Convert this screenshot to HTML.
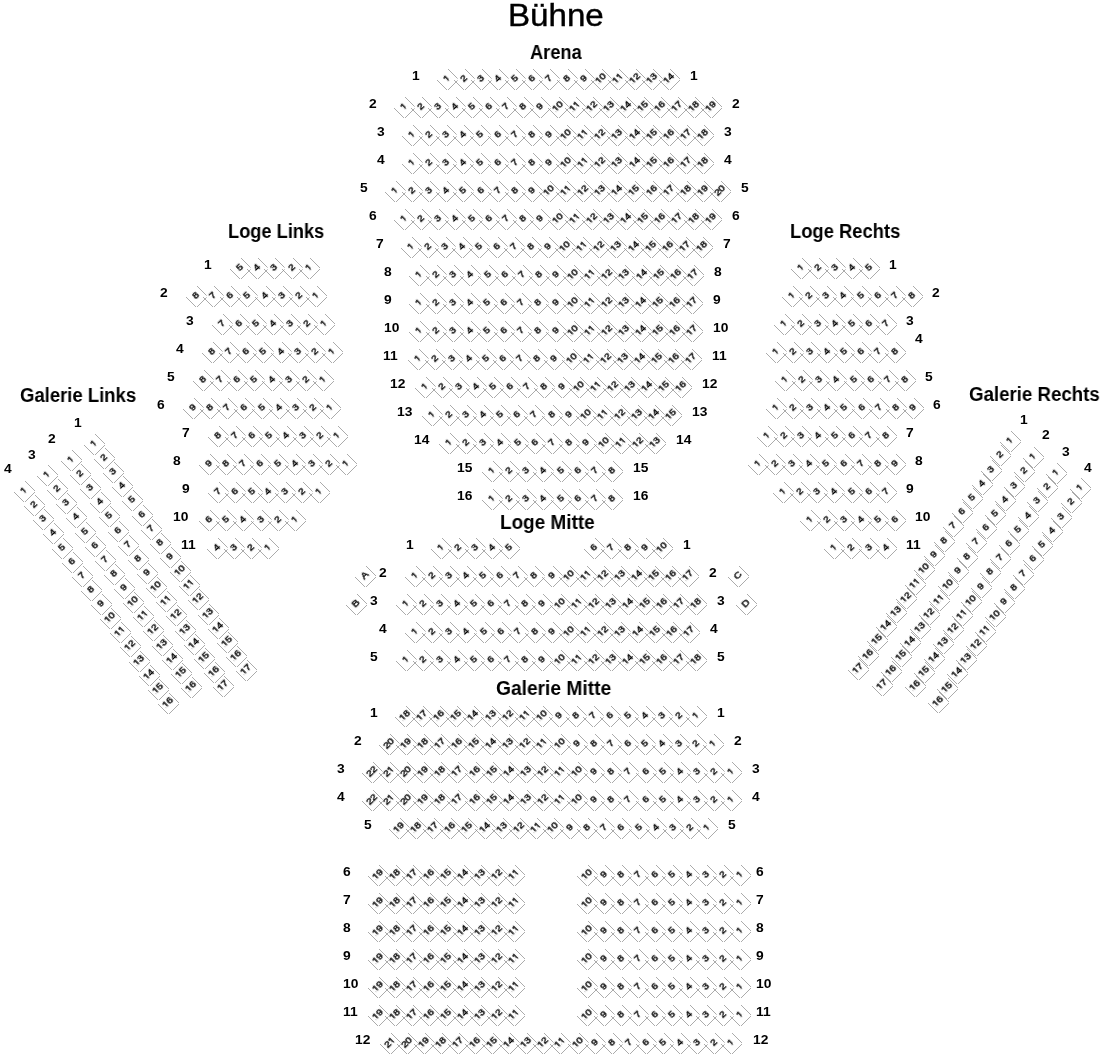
<!DOCTYPE html><html><head><meta charset="utf-8"><title>Sitzplan</title><style>html,body{margin:0;padding:0;background:#fff}
body{width:1100px;height:1062px;position:relative;overflow:hidden;font-family:"Liberation Sans",sans-serif}
svg{position:absolute;left:0;top:0}
i{position:absolute;width:15px;height:15px;transform:rotate(-45deg) scaleX(1.1);font:9.5px/12px "Liberation Sans",sans-serif;text-align:center;font-style:normal;color:#000;letter-spacing:-0.4px;-webkit-text-stroke:0.45px #000;will-change:transform}
b{position:absolute;font:bold 12px/17px "Liberation Sans",sans-serif;color:#000;transform:scaleX(1.15);transform-origin:0 0;white-space:nowrap;will-change:transform}
s{position:relative;text-decoration:none}
s:before,s:after{content:"";position:absolute;top:.81em;height:.2em;width:.2em;background:#fff}
s:before{left:.02em}s:after{left:.345em}
u{position:absolute;text-decoration:none;font-family:"Liberation Sans",sans-serif;line-height:1;color:#000;transform-origin:0 0;white-space:nowrap;will-change:transform}
</style></head><body><svg width="1100" height="1062"><path fill="none" stroke="#8a8a8a" stroke-width="0.72" shape-rendering="crispEdges" d="M448.3 69.3l8.4 8.4m0 3.6l-8.4 8.4m-1.6 0l-9.4-9.4M465.3 69.3l8.4 8.4m0 3.6l-8.4 8.4m-1.6 0l-9.4-9.4M482.3 69.3l8.4 8.4m0 3.6l-8.4 8.4m-1.6 0l-9.4-9.4M499.3 69.3l8.4 8.4m0 3.6l-8.4 8.4m-1.6 0l-9.4-9.4M516.3 69.3l8.4 8.4m0 3.6l-8.4 8.4m-1.6 0l-9.4-9.4M533.3 69.3l8.4 8.4m0 3.6l-8.4 8.4m-1.6 0l-9.4-9.4M550.3 69.3l8.4 8.4m0 3.6l-8.4 8.4m-1.6 0l-9.4-9.4M568.3 69.3l8.4 8.4m0 3.6l-8.4 8.4m-1.6 0l-9.4-9.4M585.3 69.3l8.4 8.4m0 3.6l-8.4 8.4m-1.6 0l-9.4-9.4M602.3 69.3l8.4 8.4m0 3.6l-8.4 8.4m-1.6 0l-9.4-9.4M619.3 69.3l8.4 8.4m0 3.6l-8.4 8.4m-1.6 0l-9.4-9.4M636.3 69.3l8.4 8.4m0 3.6l-8.4 8.4m-1.6 0l-9.4-9.4M653.3 69.3l8.4 8.4m0 3.6l-8.4 8.4m-1.6 0l-9.4-9.4M670.3 69.3l9.4 9.4m0 1.6l-9.4 9.4m-1.6 0l-9.4-9.4M405.3 97.3l8.4 8.4m0 3.6l-8.4 8.4m-1.6 0l-9.4-9.4M422.3 97.3l8.4 8.4m0 3.6l-8.4 8.4m-1.6 0l-9.4-9.4M439.3 97.3l8.4 8.4m0 3.6l-8.4 8.4m-1.6 0l-9.4-9.4M456.3 97.3l8.4 8.4m0 3.6l-8.4 8.4m-1.6 0l-9.4-9.4M473.3 97.3l8.4 8.4m0 3.6l-8.4 8.4m-1.6 0l-9.4-9.4M490.3 97.3l8.4 8.4m0 3.6l-8.4 8.4m-1.6 0l-9.4-9.4M507.3 97.3l8.4 8.4m0 3.6l-8.4 8.4m-1.6 0l-9.4-9.4M524.3 97.3l8.4 8.4m0 3.6l-8.4 8.4m-1.6 0l-9.4-9.4M541.3 97.3l8.4 8.4m0 3.6l-8.4 8.4m-1.6 0l-9.4-9.4M559.3 97.3l8.4 8.4m0 3.6l-8.4 8.4m-1.6 0l-9.4-9.4M576.3 97.3l8.4 8.4m0 3.6l-8.4 8.4m-1.6 0l-9.4-9.4M593.3 97.3l8.4 8.4m0 3.6l-8.4 8.4m-1.6 0l-9.4-9.4M610.3 97.3l8.4 8.4m0 3.6l-8.4 8.4m-1.6 0l-9.4-9.4M627.3 97.3l8.4 8.4m0 3.6l-8.4 8.4m-1.6 0l-9.4-9.4M644.3 97.3l8.4 8.4m0 3.6l-8.4 8.4m-1.6 0l-9.4-9.4M661.3 97.3l8.4 8.4m0 3.6l-8.4 8.4m-1.6 0l-9.4-9.4M678.3 97.3l8.4 8.4m0 3.6l-8.4 8.4m-1.6 0l-9.4-9.4M695.3 97.3l8.4 8.4m0 3.6l-8.4 8.4m-1.6 0l-9.4-9.4M712.3 97.3l9.4 9.4m0 1.6l-9.4 9.4m-1.6 0l-9.4-9.4M413.3 125.3l8.4 8.4m0 3.6l-8.4 8.4m-1.6 0l-9.4-9.4M430.3 125.3l8.4 8.4m0 3.6l-8.4 8.4m-1.6 0l-9.4-9.4M447.3 125.3l8.4 8.4m0 3.6l-8.4 8.4m-1.6 0l-9.4-9.4M464.3 125.3l8.4 8.4m0 3.6l-8.4 8.4m-1.6 0l-9.4-9.4M481.3 125.3l8.4 8.4m0 3.6l-8.4 8.4m-1.6 0l-9.4-9.4M499.3 125.3l8.4 8.4m0 3.6l-8.4 8.4m-1.6 0l-9.4-9.4M516.3 125.3l8.4 8.4m0 3.6l-8.4 8.4m-1.6 0l-9.4-9.4M533.3 125.3l8.4 8.4m0 3.6l-8.4 8.4m-1.6 0l-9.4-9.4M550.3 125.3l8.4 8.4m0 3.6l-8.4 8.4m-1.6 0l-9.4-9.4M567.3 125.3l8.4 8.4m0 3.6l-8.4 8.4m-1.6 0l-9.4-9.4M584.3 125.3l8.4 8.4m0 3.6l-8.4 8.4m-1.6 0l-9.4-9.4M601.3 125.3l8.4 8.4m0 3.6l-8.4 8.4m-1.6 0l-9.4-9.4M618.3 125.3l8.4 8.4m0 3.6l-8.4 8.4m-1.6 0l-9.4-9.4M636.3 125.3l8.4 8.4m0 3.6l-8.4 8.4m-1.6 0l-9.4-9.4M653.3 125.3l8.4 8.4m0 3.6l-8.4 8.4m-1.6 0l-9.4-9.4M670.3 125.3l8.4 8.4m0 3.6l-8.4 8.4m-1.6 0l-9.4-9.4M687.3 125.3l8.4 8.4m0 3.6l-8.4 8.4m-1.6 0l-9.4-9.4M704.3 125.3l9.4 9.4m0 1.6l-9.4 9.4m-1.6 0l-9.4-9.4M413.3 153.3l8.4 8.4m0 3.6l-8.4 8.4m-1.6 0l-9.4-9.4M430.3 153.3l8.4 8.4m0 3.6l-8.4 8.4m-1.6 0l-9.4-9.4M447.3 153.3l8.4 8.4m0 3.6l-8.4 8.4m-1.6 0l-9.4-9.4M464.3 153.3l8.4 8.4m0 3.6l-8.4 8.4m-1.6 0l-9.4-9.4M481.3 153.3l8.4 8.4m0 3.6l-8.4 8.4m-1.6 0l-9.4-9.4M499.3 153.3l8.4 8.4m0 3.6l-8.4 8.4m-1.6 0l-9.4-9.4M516.3 153.3l8.4 8.4m0 3.6l-8.4 8.4m-1.6 0l-9.4-9.4M533.3 153.3l8.4 8.4m0 3.6l-8.4 8.4m-1.6 0l-9.4-9.4M550.3 153.3l8.4 8.4m0 3.6l-8.4 8.4m-1.6 0l-9.4-9.4M567.3 153.3l8.4 8.4m0 3.6l-8.4 8.4m-1.6 0l-9.4-9.4M584.3 153.3l8.4 8.4m0 3.6l-8.4 8.4m-1.6 0l-9.4-9.4M601.3 153.3l8.4 8.4m0 3.6l-8.4 8.4m-1.6 0l-9.4-9.4M618.3 153.3l8.4 8.4m0 3.6l-8.4 8.4m-1.6 0l-9.4-9.4M636.3 153.3l8.4 8.4m0 3.6l-8.4 8.4m-1.6 0l-9.4-9.4M653.3 153.3l8.4 8.4m0 3.6l-8.4 8.4m-1.6 0l-9.4-9.4M670.3 153.3l8.4 8.4m0 3.6l-8.4 8.4m-1.6 0l-9.4-9.4M687.3 153.3l8.4 8.4m0 3.6l-8.4 8.4m-1.6 0l-9.4-9.4M704.3 153.3l9.4 9.4m0 1.6l-9.4 9.4m-1.6 0l-9.4-9.4M396.3 181.3l8.4 8.4m0 3.6l-8.4 8.4m-1.6 0l-9.4-9.4M413.3 181.3l8.4 8.4m0 3.6l-8.4 8.4m-1.6 0l-9.4-9.4M430.3 181.3l8.4 8.4m0 3.6l-8.4 8.4m-1.6 0l-9.4-9.4M447.3 181.3l8.4 8.4m0 3.6l-8.4 8.4m-1.6 0l-9.4-9.4M464.3 181.3l8.4 8.4m0 3.6l-8.4 8.4m-1.6 0l-9.4-9.4M482.3 181.3l8.4 8.4m0 3.6l-8.4 8.4m-1.6 0l-9.4-9.4M499.3 181.3l8.4 8.4m0 3.6l-8.4 8.4m-1.6 0l-9.4-9.4M516.3 181.3l8.4 8.4m0 3.6l-8.4 8.4m-1.6 0l-9.4-9.4M533.3 181.3l8.4 8.4m0 3.6l-8.4 8.4m-1.6 0l-9.4-9.4M550.3 181.3l8.4 8.4m0 3.6l-8.4 8.4m-1.6 0l-9.4-9.4M567.3 181.3l8.4 8.4m0 3.6l-8.4 8.4m-1.6 0l-9.4-9.4M584.3 181.3l8.4 8.4m0 3.6l-8.4 8.4m-1.6 0l-9.4-9.4M601.3 181.3l8.4 8.4m0 3.6l-8.4 8.4m-1.6 0l-9.4-9.4M618.3 181.3l8.4 8.4m0 3.6l-8.4 8.4m-1.6 0l-9.4-9.4M635.3 181.3l8.4 8.4m0 3.6l-8.4 8.4m-1.6 0l-9.4-9.4M653.3 181.3l8.4 8.4m0 3.6l-8.4 8.4m-1.6 0l-9.4-9.4M670.3 181.3l8.4 8.4m0 3.6l-8.4 8.4m-1.6 0l-9.4-9.4M687.3 181.3l8.4 8.4m0 3.6l-8.4 8.4m-1.6 0l-9.4-9.4M704.3 181.3l8.4 8.4m0 3.6l-8.4 8.4m-1.6 0l-9.4-9.4M721.3 181.3l9.4 9.4m0 1.6l-9.4 9.4m-1.6 0l-9.4-9.4M405.3 209.3l8.4 8.4m0 3.6l-8.4 8.4m-1.6 0l-9.4-9.4M422.3 209.3l8.4 8.4m0 3.6l-8.4 8.4m-1.6 0l-9.4-9.4M439.3 209.3l8.4 8.4m0 3.6l-8.4 8.4m-1.6 0l-9.4-9.4M456.3 209.3l8.4 8.4m0 3.6l-8.4 8.4m-1.6 0l-9.4-9.4M473.3 209.3l8.4 8.4m0 3.6l-8.4 8.4m-1.6 0l-9.4-9.4M490.3 209.3l8.4 8.4m0 3.6l-8.4 8.4m-1.6 0l-9.4-9.4M507.3 209.3l8.4 8.4m0 3.6l-8.4 8.4m-1.6 0l-9.4-9.4M524.3 209.3l8.4 8.4m0 3.6l-8.4 8.4m-1.6 0l-9.4-9.4M541.3 209.3l8.4 8.4m0 3.6l-8.4 8.4m-1.6 0l-9.4-9.4M559.3 209.3l8.4 8.4m0 3.6l-8.4 8.4m-1.6 0l-9.4-9.4M576.3 209.3l8.4 8.4m0 3.6l-8.4 8.4m-1.6 0l-9.4-9.4M593.3 209.3l8.4 8.4m0 3.6l-8.4 8.4m-1.6 0l-9.4-9.4M610.3 209.3l8.4 8.4m0 3.6l-8.4 8.4m-1.6 0l-9.4-9.4M627.3 209.3l8.4 8.4m0 3.6l-8.4 8.4m-1.6 0l-9.4-9.4M644.3 209.3l8.4 8.4m0 3.6l-8.4 8.4m-1.6 0l-9.4-9.4M661.3 209.3l8.4 8.4m0 3.6l-8.4 8.4m-1.6 0l-9.4-9.4M678.3 209.3l8.4 8.4m0 3.6l-8.4 8.4m-1.6 0l-9.4-9.4M695.3 209.3l8.4 8.4m0 3.6l-8.4 8.4m-1.6 0l-9.4-9.4M712.3 209.3l9.4 9.4m0 1.6l-9.4 9.4m-1.6 0l-9.4-9.4M412.3 237.3l8.4 8.4m0 3.6l-8.4 8.4m-1.6 0l-9.4-9.4M429.3 237.3l8.4 8.4m0 3.6l-8.4 8.4m-1.6 0l-9.4-9.4M446.3 237.3l8.4 8.4m0 3.6l-8.4 8.4m-1.6 0l-9.4-9.4M463.3 237.3l8.4 8.4m0 3.6l-8.4 8.4m-1.6 0l-9.4-9.4M480.3 237.3l8.4 8.4m0 3.6l-8.4 8.4m-1.6 0l-9.4-9.4M498.3 237.3l8.4 8.4m0 3.6l-8.4 8.4m-1.6 0l-9.4-9.4M515.3 237.3l8.4 8.4m0 3.6l-8.4 8.4m-1.6 0l-9.4-9.4M532.3 237.3l8.4 8.4m0 3.6l-8.4 8.4m-1.6 0l-9.4-9.4M549.3 237.3l8.4 8.4m0 3.6l-8.4 8.4m-1.6 0l-9.4-9.4M566.3 237.3l8.4 8.4m0 3.6l-8.4 8.4m-1.6 0l-9.4-9.4M583.3 237.3l8.4 8.4m0 3.6l-8.4 8.4m-1.6 0l-9.4-9.4M600.3 237.3l8.4 8.4m0 3.6l-8.4 8.4m-1.6 0l-9.4-9.4M617.3 237.3l8.4 8.4m0 3.6l-8.4 8.4m-1.6 0l-9.4-9.4M635.3 237.3l8.4 8.4m0 3.6l-8.4 8.4m-1.6 0l-9.4-9.4M652.3 237.3l8.4 8.4m0 3.6l-8.4 8.4m-1.6 0l-9.4-9.4M669.3 237.3l8.4 8.4m0 3.6l-8.4 8.4m-1.6 0l-9.4-9.4M686.3 237.3l8.4 8.4m0 3.6l-8.4 8.4m-1.6 0l-9.4-9.4M703.3 237.3l9.4 9.4m0 1.6l-9.4 9.4m-1.6 0l-9.4-9.4M420.3 265.3l8.4 8.4m0 3.6l-8.4 8.4m-1.6 0l-9.4-9.4M437.3 265.3l8.4 8.4m0 3.6l-8.4 8.4m-1.6 0l-9.4-9.4M454.3 265.3l8.4 8.4m0 3.6l-8.4 8.4m-1.6 0l-9.4-9.4M471.3 265.3l8.4 8.4m0 3.6l-8.4 8.4m-1.6 0l-9.4-9.4M489.3 265.3l8.4 8.4m0 3.6l-8.4 8.4m-1.6 0l-9.4-9.4M506.3 265.3l8.4 8.4m0 3.6l-8.4 8.4m-1.6 0l-9.4-9.4M523.3 265.3l8.4 8.4m0 3.6l-8.4 8.4m-1.6 0l-9.4-9.4M540.3 265.3l8.4 8.4m0 3.6l-8.4 8.4m-1.6 0l-9.4-9.4M557.3 265.3l8.4 8.4m0 3.6l-8.4 8.4m-1.6 0l-9.4-9.4M574.3 265.3l8.4 8.4m0 3.6l-8.4 8.4m-1.6 0l-9.4-9.4M591.3 265.3l8.4 8.4m0 3.6l-8.4 8.4m-1.6 0l-9.4-9.4M608.3 265.3l8.4 8.4m0 3.6l-8.4 8.4m-1.6 0l-9.4-9.4M625.3 265.3l8.4 8.4m0 3.6l-8.4 8.4m-1.6 0l-9.4-9.4M643.3 265.3l8.4 8.4m0 3.6l-8.4 8.4m-1.6 0l-9.4-9.4M660.3 265.3l8.4 8.4m0 3.6l-8.4 8.4m-1.6 0l-9.4-9.4M677.3 265.3l8.4 8.4m0 3.6l-8.4 8.4m-1.6 0l-9.4-9.4M694.3 265.3l9.4 9.4m0 1.6l-9.4 9.4m-1.6 0l-9.4-9.4M420.3 293.3l8.4 8.4m0 3.6l-8.4 8.4m-1.6 0l-9.4-9.4M437.3 293.3l8.4 8.4m0 3.6l-8.4 8.4m-1.6 0l-9.4-9.4M454.3 293.3l8.4 8.4m0 3.6l-8.4 8.4m-1.6 0l-9.4-9.4M471.3 293.3l8.4 8.4m0 3.6l-8.4 8.4m-1.6 0l-9.4-9.4M488.3 293.3l8.4 8.4m0 3.6l-8.4 8.4m-1.6 0l-9.4-9.4M505.3 293.3l8.4 8.4m0 3.6l-8.4 8.4m-1.6 0l-9.4-9.4M522.3 293.3l8.4 8.4m0 3.6l-8.4 8.4m-1.6 0l-9.4-9.4M539.3 293.3l8.4 8.4m0 3.6l-8.4 8.4m-1.6 0l-9.4-9.4M557.3 293.3l8.4 8.4m0 3.6l-8.4 8.4m-1.6 0l-9.4-9.4M574.3 293.3l8.4 8.4m0 3.6l-8.4 8.4m-1.6 0l-9.4-9.4M591.3 293.3l8.4 8.4m0 3.6l-8.4 8.4m-1.6 0l-9.4-9.4M608.3 293.3l8.4 8.4m0 3.6l-8.4 8.4m-1.6 0l-9.4-9.4M625.3 293.3l8.4 8.4m0 3.6l-8.4 8.4m-1.6 0l-9.4-9.4M642.3 293.3l8.4 8.4m0 3.6l-8.4 8.4m-1.6 0l-9.4-9.4M659.3 293.3l8.4 8.4m0 3.6l-8.4 8.4m-1.6 0l-9.4-9.4M676.3 293.3l8.4 8.4m0 3.6l-8.4 8.4m-1.6 0l-9.4-9.4M693.3 293.3l9.4 9.4m0 1.6l-9.4 9.4m-1.6 0l-9.4-9.4M420.3 321.3l8.4 8.4m0 3.6l-8.4 8.4m-1.6 0l-9.4-9.4M437.3 321.3l8.4 8.4m0 3.6l-8.4 8.4m-1.6 0l-9.4-9.4M454.3 321.3l8.4 8.4m0 3.6l-8.4 8.4m-1.6 0l-9.4-9.4M471.3 321.3l8.4 8.4m0 3.6l-8.4 8.4m-1.6 0l-9.4-9.4M488.3 321.3l8.4 8.4m0 3.6l-8.4 8.4m-1.6 0l-9.4-9.4M505.3 321.3l8.4 8.4m0 3.6l-8.4 8.4m-1.6 0l-9.4-9.4M522.3 321.3l8.4 8.4m0 3.6l-8.4 8.4m-1.6 0l-9.4-9.4M539.3 321.3l8.4 8.4m0 3.6l-8.4 8.4m-1.6 0l-9.4-9.4M557.3 321.3l8.4 8.4m0 3.6l-8.4 8.4m-1.6 0l-9.4-9.4M574.3 321.3l8.4 8.4m0 3.6l-8.4 8.4m-1.6 0l-9.4-9.4M591.3 321.3l8.4 8.4m0 3.6l-8.4 8.4m-1.6 0l-9.4-9.4M608.3 321.3l8.4 8.4m0 3.6l-8.4 8.4m-1.6 0l-9.4-9.4M625.3 321.3l8.4 8.4m0 3.6l-8.4 8.4m-1.6 0l-9.4-9.4M642.3 321.3l8.4 8.4m0 3.6l-8.4 8.4m-1.6 0l-9.4-9.4M659.3 321.3l8.4 8.4m0 3.6l-8.4 8.4m-1.6 0l-9.4-9.4M676.3 321.3l8.4 8.4m0 3.6l-8.4 8.4m-1.6 0l-9.4-9.4M693.3 321.3l9.4 9.4m0 1.6l-9.4 9.4m-1.6 0l-9.4-9.4M419.3 349.3l8.4 8.4m0 3.6l-8.4 8.4m-1.6 0l-9.4-9.4M436.3 349.3l8.4 8.4m0 3.6l-8.4 8.4m-1.6 0l-9.4-9.4M453.3 349.3l8.4 8.4m0 3.6l-8.4 8.4m-1.6 0l-9.4-9.4M470.3 349.3l8.4 8.4m0 3.6l-8.4 8.4m-1.6 0l-9.4-9.4M487.3 349.3l8.4 8.4m0 3.6l-8.4 8.4m-1.6 0l-9.4-9.4M504.3 349.3l8.4 8.4m0 3.6l-8.4 8.4m-1.6 0l-9.4-9.4M521.3 349.3l8.4 8.4m0 3.6l-8.4 8.4m-1.6 0l-9.4-9.4M538.3 349.3l8.4 8.4m0 3.6l-8.4 8.4m-1.6 0l-9.4-9.4M555.3 349.3l8.4 8.4m0 3.6l-8.4 8.4m-1.6 0l-9.4-9.4M573.3 349.3l8.4 8.4m0 3.6l-8.4 8.4m-1.6 0l-9.4-9.4M590.3 349.3l8.4 8.4m0 3.6l-8.4 8.4m-1.6 0l-9.4-9.4M607.3 349.3l8.4 8.4m0 3.6l-8.4 8.4m-1.6 0l-9.4-9.4M624.3 349.3l8.4 8.4m0 3.6l-8.4 8.4m-1.6 0l-9.4-9.4M641.3 349.3l8.4 8.4m0 3.6l-8.4 8.4m-1.6 0l-9.4-9.4M658.3 349.3l8.4 8.4m0 3.6l-8.4 8.4m-1.6 0l-9.4-9.4M675.3 349.3l8.4 8.4m0 3.6l-8.4 8.4m-1.6 0l-9.4-9.4M692.3 349.3l9.4 9.4m0 1.6l-9.4 9.4m-1.6 0l-9.4-9.4M426.3 377.3l8.4 8.4m0 3.6l-8.4 8.4m-1.6 0l-9.4-9.4M443.3 377.3l8.4 8.4m0 3.6l-8.4 8.4m-1.6 0l-9.4-9.4M460.3 377.3l8.4 8.4m0 3.6l-8.4 8.4m-1.6 0l-9.4-9.4M477.3 377.3l8.4 8.4m0 3.6l-8.4 8.4m-1.6 0l-9.4-9.4M494.3 377.3l8.4 8.4m0 3.6l-8.4 8.4m-1.6 0l-9.4-9.4M511.3 377.3l8.4 8.4m0 3.6l-8.4 8.4m-1.6 0l-9.4-9.4M528.3 377.3l8.4 8.4m0 3.6l-8.4 8.4m-1.6 0l-9.4-9.4M545.3 377.3l8.4 8.4m0 3.6l-8.4 8.4m-1.6 0l-9.4-9.4M563.3 377.3l8.4 8.4m0 3.6l-8.4 8.4m-1.6 0l-9.4-9.4M580.3 377.3l8.4 8.4m0 3.6l-8.4 8.4m-1.6 0l-9.4-9.4M597.3 377.3l8.4 8.4m0 3.6l-8.4 8.4m-1.6 0l-9.4-9.4M614.3 377.3l8.4 8.4m0 3.6l-8.4 8.4m-1.6 0l-9.4-9.4M631.3 377.3l8.4 8.4m0 3.6l-8.4 8.4m-1.6 0l-9.4-9.4M648.3 377.3l8.4 8.4m0 3.6l-8.4 8.4m-1.6 0l-9.4-9.4M665.3 377.3l8.4 8.4m0 3.6l-8.4 8.4m-1.6 0l-9.4-9.4M682.3 377.3l9.4 9.4m0 1.6l-9.4 9.4m-1.6 0l-9.4-9.4M433.3 405.3l8.4 8.4m0 3.6l-8.4 8.4m-1.6 0l-9.4-9.4M450.3 405.3l8.4 8.4m0 3.6l-8.4 8.4m-1.6 0l-9.4-9.4M467.3 405.3l8.4 8.4m0 3.6l-8.4 8.4m-1.6 0l-9.4-9.4M484.3 405.3l8.4 8.4m0 3.6l-8.4 8.4m-1.6 0l-9.4-9.4M501.3 405.3l8.4 8.4m0 3.6l-8.4 8.4m-1.6 0l-9.4-9.4M518.3 405.3l8.4 8.4m0 3.6l-8.4 8.4m-1.6 0l-9.4-9.4M535.3 405.3l8.4 8.4m0 3.6l-8.4 8.4m-1.6 0l-9.4-9.4M553.3 405.3l8.4 8.4m0 3.6l-8.4 8.4m-1.6 0l-9.4-9.4M570.3 405.3l8.4 8.4m0 3.6l-8.4 8.4m-1.6 0l-9.4-9.4M587.3 405.3l8.4 8.4m0 3.6l-8.4 8.4m-1.6 0l-9.4-9.4M604.3 405.3l8.4 8.4m0 3.6l-8.4 8.4m-1.6 0l-9.4-9.4M621.3 405.3l8.4 8.4m0 3.6l-8.4 8.4m-1.6 0l-9.4-9.4M638.3 405.3l8.4 8.4m0 3.6l-8.4 8.4m-1.6 0l-9.4-9.4M655.3 405.3l8.4 8.4m0 3.6l-8.4 8.4m-1.6 0l-9.4-9.4M672.3 405.3l9.4 9.4m0 1.6l-9.4 9.4m-1.6 0l-9.4-9.4M450.3 433.3l8.4 8.4m0 3.6l-8.4 8.4m-1.6 0l-9.4-9.4M467.3 433.3l8.4 8.4m0 3.6l-8.4 8.4m-1.6 0l-9.4-9.4M484.3 433.3l8.4 8.4m0 3.6l-8.4 8.4m-1.6 0l-9.4-9.4M501.3 433.3l8.4 8.4m0 3.6l-8.4 8.4m-1.6 0l-9.4-9.4M519.3 433.3l8.4 8.4m0 3.6l-8.4 8.4m-1.6 0l-9.4-9.4M536.3 433.3l8.4 8.4m0 3.6l-8.4 8.4m-1.6 0l-9.4-9.4M553.3 433.3l8.4 8.4m0 3.6l-8.4 8.4m-1.6 0l-9.4-9.4M570.3 433.3l8.4 8.4m0 3.6l-8.4 8.4m-1.6 0l-9.4-9.4M587.3 433.3l8.4 8.4m0 3.6l-8.4 8.4m-1.6 0l-9.4-9.4M605.3 433.3l8.4 8.4m0 3.6l-8.4 8.4m-1.6 0l-9.4-9.4M622.3 433.3l8.4 8.4m0 3.6l-8.4 8.4m-1.6 0l-9.4-9.4M639.3 433.3l8.4 8.4m0 3.6l-8.4 8.4m-1.6 0l-9.4-9.4M656.3 433.3l9.4 9.4m0 1.6l-9.4 9.4m-1.6 0l-9.4-9.4M493.3 461.3l8.4 8.4m0 3.6l-8.4 8.4m-1.6 0l-9.4-9.4M510.3 461.3l8.4 8.4m0 3.6l-8.4 8.4m-1.6 0l-9.4-9.4M527.3 461.3l8.4 8.4m0 3.6l-8.4 8.4m-1.6 0l-9.4-9.4M544.3 461.3l8.4 8.4m0 3.6l-8.4 8.4m-1.6 0l-9.4-9.4M562.3 461.3l8.4 8.4m0 3.6l-8.4 8.4m-1.6 0l-9.4-9.4M579.3 461.3l8.4 8.4m0 3.6l-8.4 8.4m-1.6 0l-9.4-9.4M596.3 461.3l8.4 8.4m0 3.6l-8.4 8.4m-1.6 0l-9.4-9.4M613.3 461.3l9.4 9.4m0 1.6l-9.4 9.4m-1.6 0l-9.4-9.4M493.3 489.3l8.4 8.4m0 3.6l-8.4 8.4m-1.6 0l-9.4-9.4M510.3 489.3l8.4 8.4m0 3.6l-8.4 8.4m-1.6 0l-9.4-9.4M527.3 489.3l8.4 8.4m0 3.6l-8.4 8.4m-1.6 0l-9.4-9.4M544.3 489.3l8.4 8.4m0 3.6l-8.4 8.4m-1.6 0l-9.4-9.4M562.3 489.3l8.4 8.4m0 3.6l-8.4 8.4m-1.6 0l-9.4-9.4M579.3 489.3l8.4 8.4m0 3.6l-8.4 8.4m-1.6 0l-9.4-9.4M596.3 489.3l8.4 8.4m0 3.6l-8.4 8.4m-1.6 0l-9.4-9.4M613.3 489.3l9.4 9.4m0 1.6l-9.4 9.4m-1.6 0l-9.4-9.4M241.3 258.3l8.4 8.4m0 3.6l-8.4 8.4m-1.6 0l-9.4-9.4M258.3 258.3l8.4 8.4m0 3.6l-8.4 8.4m-1.6 0l-9.4-9.4M275.3 258.3l8.4 8.4m0 3.6l-8.4 8.4m-1.6 0l-9.4-9.4M293.3 258.3l8.4 8.4m0 3.6l-8.4 8.4m-1.6 0l-9.4-9.4M310.3 258.3l9.4 9.4m0 1.6l-9.4 9.4m-1.6 0l-9.4-9.4M197.3 286.3l8.4 8.4m0 3.6l-8.4 8.4m-1.6 0l-9.4-9.4M214.3 286.3l8.4 8.4m0 3.6l-8.4 8.4m-1.6 0l-9.4-9.4M231.3 286.3l8.4 8.4m0 3.6l-8.4 8.4m-1.6 0l-9.4-9.4M248.3 286.3l8.4 8.4m0 3.6l-8.4 8.4m-1.6 0l-9.4-9.4M266.3 286.3l8.4 8.4m0 3.6l-8.4 8.4m-1.6 0l-9.4-9.4M283.3 286.3l8.4 8.4m0 3.6l-8.4 8.4m-1.6 0l-9.4-9.4M300.3 286.3l8.4 8.4m0 3.6l-8.4 8.4m-1.6 0l-9.4-9.4M317.3 286.3l9.4 9.4m0 1.6l-9.4 9.4m-1.6 0l-9.4-9.4M223.3 314.3l8.4 8.4m0 3.6l-8.4 8.4m-1.6 0l-9.4-9.4M240.3 314.3l8.4 8.4m0 3.6l-8.4 8.4m-1.6 0l-9.4-9.4M257.3 314.3l8.4 8.4m0 3.6l-8.4 8.4m-1.6 0l-9.4-9.4M274.3 314.3l8.4 8.4m0 3.6l-8.4 8.4m-1.6 0l-9.4-9.4M291.3 314.3l8.4 8.4m0 3.6l-8.4 8.4m-1.6 0l-9.4-9.4M308.3 314.3l8.4 8.4m0 3.6l-8.4 8.4m-1.6 0l-9.4-9.4M325.3 314.3l9.4 9.4m0 1.6l-9.4 9.4m-1.6 0l-9.4-9.4M213.3 342.3l8.4 8.4m0 3.6l-8.4 8.4m-1.6 0l-9.4-9.4M230.3 342.3l8.4 8.4m0 3.6l-8.4 8.4m-1.6 0l-9.4-9.4M247.3 342.3l8.4 8.4m0 3.6l-8.4 8.4m-1.6 0l-9.4-9.4M264.3 342.3l8.4 8.4m0 3.6l-8.4 8.4m-1.6 0l-9.4-9.4M282.3 342.3l8.4 8.4m0 3.6l-8.4 8.4m-1.6 0l-9.4-9.4M299.3 342.3l8.4 8.4m0 3.6l-8.4 8.4m-1.6 0l-9.4-9.4M316.3 342.3l8.4 8.4m0 3.6l-8.4 8.4m-1.6 0l-9.4-9.4M333.3 342.3l9.4 9.4m0 1.6l-9.4 9.4m-1.6 0l-9.4-9.4M204.3 370.3l8.4 8.4m0 3.6l-8.4 8.4m-1.6 0l-9.4-9.4M221.3 370.3l8.4 8.4m0 3.6l-8.4 8.4m-1.6 0l-9.4-9.4M238.3 370.3l8.4 8.4m0 3.6l-8.4 8.4m-1.6 0l-9.4-9.4M255.3 370.3l8.4 8.4m0 3.6l-8.4 8.4m-1.6 0l-9.4-9.4M273.3 370.3l8.4 8.4m0 3.6l-8.4 8.4m-1.6 0l-9.4-9.4M290.3 370.3l8.4 8.4m0 3.6l-8.4 8.4m-1.6 0l-9.4-9.4M307.3 370.3l8.4 8.4m0 3.6l-8.4 8.4m-1.6 0l-9.4-9.4M324.3 370.3l9.4 9.4m0 1.6l-9.4 9.4m-1.6 0l-9.4-9.4M194.3 398.3l8.4 8.4m0 3.6l-8.4 8.4m-1.6 0l-9.4-9.4M211.3 398.3l8.4 8.4m0 3.6l-8.4 8.4m-1.6 0l-9.4-9.4M228.3 398.3l8.4 8.4m0 3.6l-8.4 8.4m-1.6 0l-9.4-9.4M245.3 398.3l8.4 8.4m0 3.6l-8.4 8.4m-1.6 0l-9.4-9.4M263.3 398.3l8.4 8.4m0 3.6l-8.4 8.4m-1.6 0l-9.4-9.4M280.3 398.3l8.4 8.4m0 3.6l-8.4 8.4m-1.6 0l-9.4-9.4M297.3 398.3l8.4 8.4m0 3.6l-8.4 8.4m-1.6 0l-9.4-9.4M314.3 398.3l8.4 8.4m0 3.6l-8.4 8.4m-1.6 0l-9.4-9.4M331.3 398.3l9.4 9.4m0 1.6l-9.4 9.4m-1.6 0l-9.4-9.4M219.3 426.3l8.4 8.4m0 3.6l-8.4 8.4m-1.6 0l-9.4-9.4M236.3 426.3l8.4 8.4m0 3.6l-8.4 8.4m-1.6 0l-9.4-9.4M253.3 426.3l8.4 8.4m0 3.6l-8.4 8.4m-1.6 0l-9.4-9.4M270.3 426.3l8.4 8.4m0 3.6l-8.4 8.4m-1.6 0l-9.4-9.4M287.3 426.3l8.4 8.4m0 3.6l-8.4 8.4m-1.6 0l-9.4-9.4M304.3 426.3l8.4 8.4m0 3.6l-8.4 8.4m-1.6 0l-9.4-9.4M321.3 426.3l8.4 8.4m0 3.6l-8.4 8.4m-1.6 0l-9.4-9.4M338.3 426.3l9.4 9.4m0 1.6l-9.4 9.4m-1.6 0l-9.4-9.4M210.3 454.3l8.4 8.4m0 3.6l-8.4 8.4m-1.6 0l-9.4-9.4M227.3 454.3l8.4 8.4m0 3.6l-8.4 8.4m-1.6 0l-9.4-9.4M244.3 454.3l8.4 8.4m0 3.6l-8.4 8.4m-1.6 0l-9.4-9.4M261.3 454.3l8.4 8.4m0 3.6l-8.4 8.4m-1.6 0l-9.4-9.4M279.3 454.3l8.4 8.4m0 3.6l-8.4 8.4m-1.6 0l-9.4-9.4M296.3 454.3l8.4 8.4m0 3.6l-8.4 8.4m-1.6 0l-9.4-9.4M313.3 454.3l8.4 8.4m0 3.6l-8.4 8.4m-1.6 0l-9.4-9.4M330.3 454.3l8.4 8.4m0 3.6l-8.4 8.4m-1.6 0l-9.4-9.4M347.3 454.3l9.4 9.4m0 1.6l-9.4 9.4m-1.6 0l-9.4-9.4M219.3 482.3l8.4 8.4m0 3.6l-8.4 8.4m-1.6 0l-9.4-9.4M236.3 482.3l8.4 8.4m0 3.6l-8.4 8.4m-1.6 0l-9.4-9.4M253.3 482.3l8.4 8.4m0 3.6l-8.4 8.4m-1.6 0l-9.4-9.4M269.3 482.3l8.4 8.4m0 3.6l-8.4 8.4m-1.6 0l-9.4-9.4M286.3 482.3l8.4 8.4m0 3.6l-8.4 8.4m-1.6 0l-9.4-9.4M303.3 482.3l8.4 8.4m0 3.6l-8.4 8.4m-1.6 0l-9.4-9.4M320.3 482.3l9.4 9.4m0 1.6l-9.4 9.4m-1.6 0l-9.4-9.4M210.3 510.3l8.4 8.4m0 3.6l-8.4 8.4m-1.6 0l-9.4-9.4M227.3 510.3l8.4 8.4m0 3.6l-8.4 8.4m-1.6 0l-9.4-9.4M244.3 510.3l8.4 8.4m0 3.6l-8.4 8.4m-1.6 0l-9.4-9.4M262.3 510.3l8.4 8.4m0 3.6l-8.4 8.4m-1.6 0l-9.4-9.4M279.3 510.3l8.4 8.4m0 3.6l-8.4 8.4m-1.6 0l-9.4-9.4M296.3 510.3l9.4 9.4m0 1.6l-9.4 9.4m-1.6 0l-9.4-9.4M218.3 538.3l8.4 8.4m0 3.6l-8.4 8.4m-1.6 0l-9.4-9.4M235.3 538.3l8.4 8.4m0 3.6l-8.4 8.4m-1.6 0l-9.4-9.4M252.3 538.3l8.4 8.4m0 3.6l-8.4 8.4m-1.6 0l-9.4-9.4M269.3 538.3l9.4 9.4m0 1.6l-9.4 9.4m-1.6 0l-9.4-9.4M802.3 258.3l8.4 8.4m0 3.6l-8.4 8.4m-1.6 0l-9.4-9.4M819.3 258.3l8.4 8.4m0 3.6l-8.4 8.4m-1.6 0l-9.4-9.4M836.3 258.3l8.4 8.4m0 3.6l-8.4 8.4m-1.6 0l-9.4-9.4M853.3 258.3l8.4 8.4m0 3.6l-8.4 8.4m-1.6 0l-9.4-9.4M870.3 258.3l9.4 9.4m0 1.6l-9.4 9.4m-1.6 0l-9.4-9.4M793.3 286.3l8.4 8.4m0 3.6l-8.4 8.4m-1.6 0l-9.4-9.4M810.3 286.3l8.4 8.4m0 3.6l-8.4 8.4m-1.6 0l-9.4-9.4M827.3 286.3l8.4 8.4m0 3.6l-8.4 8.4m-1.6 0l-9.4-9.4M844.3 286.3l8.4 8.4m0 3.6l-8.4 8.4m-1.6 0l-9.4-9.4M862.3 286.3l8.4 8.4m0 3.6l-8.4 8.4m-1.6 0l-9.4-9.4M879.3 286.3l8.4 8.4m0 3.6l-8.4 8.4m-1.6 0l-9.4-9.4M896.3 286.3l8.4 8.4m0 3.6l-8.4 8.4m-1.6 0l-9.4-9.4M913.3 286.3l9.4 9.4m0 1.6l-9.4 9.4m-1.6 0l-9.4-9.4M785.3 314.3l8.4 8.4m0 3.6l-8.4 8.4m-1.6 0l-9.4-9.4M802.3 314.3l8.4 8.4m0 3.6l-8.4 8.4m-1.6 0l-9.4-9.4M819.3 314.3l8.4 8.4m0 3.6l-8.4 8.4m-1.6 0l-9.4-9.4M836.3 314.3l8.4 8.4m0 3.6l-8.4 8.4m-1.6 0l-9.4-9.4M853.3 314.3l8.4 8.4m0 3.6l-8.4 8.4m-1.6 0l-9.4-9.4M870.3 314.3l8.4 8.4m0 3.6l-8.4 8.4m-1.6 0l-9.4-9.4M887.3 314.3l9.4 9.4m0 1.6l-9.4 9.4m-1.6 0l-9.4-9.4M777.3 342.3l8.4 8.4m0 3.6l-8.4 8.4m-1.6 0l-9.4-9.4M794.3 342.3l8.4 8.4m0 3.6l-8.4 8.4m-1.6 0l-9.4-9.4M811.3 342.3l8.4 8.4m0 3.6l-8.4 8.4m-1.6 0l-9.4-9.4M828.3 342.3l8.4 8.4m0 3.6l-8.4 8.4m-1.6 0l-9.4-9.4M845.3 342.3l8.4 8.4m0 3.6l-8.4 8.4m-1.6 0l-9.4-9.4M862.3 342.3l8.4 8.4m0 3.6l-8.4 8.4m-1.6 0l-9.4-9.4M879.3 342.3l8.4 8.4m0 3.6l-8.4 8.4m-1.6 0l-9.4-9.4M896.3 342.3l9.4 9.4m0 1.6l-9.4 9.4m-1.6 0l-9.4-9.4M786.3 370.3l8.4 8.4m0 3.6l-8.4 8.4m-1.6 0l-9.4-9.4M803.3 370.3l8.4 8.4m0 3.6l-8.4 8.4m-1.6 0l-9.4-9.4M820.3 370.3l8.4 8.4m0 3.6l-8.4 8.4m-1.6 0l-9.4-9.4M837.3 370.3l8.4 8.4m0 3.6l-8.4 8.4m-1.6 0l-9.4-9.4M855.3 370.3l8.4 8.4m0 3.6l-8.4 8.4m-1.6 0l-9.4-9.4M872.3 370.3l8.4 8.4m0 3.6l-8.4 8.4m-1.6 0l-9.4-9.4M889.3 370.3l8.4 8.4m0 3.6l-8.4 8.4m-1.6 0l-9.4-9.4M906.3 370.3l9.4 9.4m0 1.6l-9.4 9.4m-1.6 0l-9.4-9.4M777.3 398.3l8.4 8.4m0 3.6l-8.4 8.4m-1.6 0l-9.4-9.4M794.3 398.3l8.4 8.4m0 3.6l-8.4 8.4m-1.6 0l-9.4-9.4M811.3 398.3l8.4 8.4m0 3.6l-8.4 8.4m-1.6 0l-9.4-9.4M828.3 398.3l8.4 8.4m0 3.6l-8.4 8.4m-1.6 0l-9.4-9.4M845.3 398.3l8.4 8.4m0 3.6l-8.4 8.4m-1.6 0l-9.4-9.4M863.3 398.3l8.4 8.4m0 3.6l-8.4 8.4m-1.6 0l-9.4-9.4M880.3 398.3l8.4 8.4m0 3.6l-8.4 8.4m-1.6 0l-9.4-9.4M897.3 398.3l8.4 8.4m0 3.6l-8.4 8.4m-1.6 0l-9.4-9.4M914.3 398.3l9.4 9.4m0 1.6l-9.4 9.4m-1.6 0l-9.4-9.4M768.3 426.3l8.4 8.4m0 3.6l-8.4 8.4m-1.6 0l-9.4-9.4M785.3 426.3l8.4 8.4m0 3.6l-8.4 8.4m-1.6 0l-9.4-9.4M802.3 426.3l8.4 8.4m0 3.6l-8.4 8.4m-1.6 0l-9.4-9.4M819.3 426.3l8.4 8.4m0 3.6l-8.4 8.4m-1.6 0l-9.4-9.4M836.3 426.3l8.4 8.4m0 3.6l-8.4 8.4m-1.6 0l-9.4-9.4M853.3 426.3l8.4 8.4m0 3.6l-8.4 8.4m-1.6 0l-9.4-9.4M870.3 426.3l8.4 8.4m0 3.6l-8.4 8.4m-1.6 0l-9.4-9.4M887.3 426.3l9.4 9.4m0 1.6l-9.4 9.4m-1.6 0l-9.4-9.4M759.3 454.3l8.4 8.4m0 3.6l-8.4 8.4m-1.6 0l-9.4-9.4M776.3 454.3l8.4 8.4m0 3.6l-8.4 8.4m-1.6 0l-9.4-9.4M793.3 454.3l8.4 8.4m0 3.6l-8.4 8.4m-1.6 0l-9.4-9.4M810.3 454.3l8.4 8.4m0 3.6l-8.4 8.4m-1.6 0l-9.4-9.4M827.3 454.3l8.4 8.4m0 3.6l-8.4 8.4m-1.6 0l-9.4-9.4M845.3 454.3l8.4 8.4m0 3.6l-8.4 8.4m-1.6 0l-9.4-9.4M862.3 454.3l8.4 8.4m0 3.6l-8.4 8.4m-1.6 0l-9.4-9.4M879.3 454.3l8.4 8.4m0 3.6l-8.4 8.4m-1.6 0l-9.4-9.4M896.3 454.3l9.4 9.4m0 1.6l-9.4 9.4m-1.6 0l-9.4-9.4M784.3 482.3l8.4 8.4m0 3.6l-8.4 8.4m-1.6 0l-9.4-9.4M801.3 482.3l8.4 8.4m0 3.6l-8.4 8.4m-1.6 0l-9.4-9.4M818.3 482.3l8.4 8.4m0 3.6l-8.4 8.4m-1.6 0l-9.4-9.4M835.3 482.3l8.4 8.4m0 3.6l-8.4 8.4m-1.6 0l-9.4-9.4M853.3 482.3l8.4 8.4m0 3.6l-8.4 8.4m-1.6 0l-9.4-9.4M870.3 482.3l8.4 8.4m0 3.6l-8.4 8.4m-1.6 0l-9.4-9.4M887.3 482.3l9.4 9.4m0 1.6l-9.4 9.4m-1.6 0l-9.4-9.4M811.3 510.3l8.4 8.4m0 3.6l-8.4 8.4m-1.6 0l-9.4-9.4M828.3 510.3l8.4 8.4m0 3.6l-8.4 8.4m-1.6 0l-9.4-9.4M845.3 510.3l8.4 8.4m0 3.6l-8.4 8.4m-1.6 0l-9.4-9.4M862.3 510.3l8.4 8.4m0 3.6l-8.4 8.4m-1.6 0l-9.4-9.4M879.3 510.3l8.4 8.4m0 3.6l-8.4 8.4m-1.6 0l-9.4-9.4M896.3 510.3l9.4 9.4m0 1.6l-9.4 9.4m-1.6 0l-9.4-9.4M835.3 538.3l8.4 8.4m0 3.6l-8.4 8.4m-1.6 0l-9.4-9.4M852.3 538.3l8.4 8.4m0 3.6l-8.4 8.4m-1.6 0l-9.4-9.4M870.3 538.3l8.4 8.4m0 3.6l-8.4 8.4m-1.6 0l-9.4-9.4M887.3 538.3l9.4 9.4m0 1.6l-9.4 9.4m-1.6 0l-9.4-9.4M366.3 566.3l9.4 9.4m0 1.6l-9.4 9.4m-1.6 0l-9.4-9.4M357.3 594.3l9.4 9.4m0 1.6l-9.4 9.4m-1.6 0l-9.4-9.4M739.3 566.3l9.4 9.4m0 1.6l-9.4 9.4m-1.6 0l-9.4-9.4M747.3 594.3l9.4 9.4m0 1.6l-9.4 9.4m-1.6 0l-9.4-9.4M442.3 538.3l8.4 8.4m0 3.6l-8.4 8.4m-1.6 0l-9.4-9.4M459.3 538.3l8.4 8.4m0 3.6l-8.4 8.4m-1.6 0l-9.4-9.4M476.3 538.3l8.4 8.4m0 3.6l-8.4 8.4m-1.6 0l-9.4-9.4M493.3 538.3l8.4 8.4m0 3.6l-8.4 8.4m-1.6 0l-9.4-9.4M510.3 538.3l9.4 9.4m0 1.6l-9.4 9.4m-1.6 0l-9.4-9.4M595.3 538.3l8.4 8.4m0 3.6l-8.4 8.4m-1.6 0l-9.4-9.4M612.3 538.3l8.4 8.4m0 3.6l-8.4 8.4m-1.6 0l-9.4-9.4M629.3 538.3l8.4 8.4m0 3.6l-8.4 8.4m-1.6 0l-9.4-9.4M646.3 538.3l8.4 8.4m0 3.6l-8.4 8.4m-1.6 0l-9.4-9.4M663.3 538.3l9.4 9.4m0 1.6l-9.4 9.4m-1.6 0l-9.4-9.4M416.3 566.3l8.4 8.4m0 3.6l-8.4 8.4m-1.6 0l-9.4-9.4M433.3 566.3l8.4 8.4m0 3.6l-8.4 8.4m-1.6 0l-9.4-9.4M450.3 566.3l8.4 8.4m0 3.6l-8.4 8.4m-1.6 0l-9.4-9.4M467.3 566.3l8.4 8.4m0 3.6l-8.4 8.4m-1.6 0l-9.4-9.4M484.3 566.3l8.4 8.4m0 3.6l-8.4 8.4m-1.6 0l-9.4-9.4M501.3 566.3l8.4 8.4m0 3.6l-8.4 8.4m-1.6 0l-9.4-9.4M518.3 566.3l8.4 8.4m0 3.6l-8.4 8.4m-1.6 0l-9.4-9.4M535.3 566.3l8.4 8.4m0 3.6l-8.4 8.4m-1.6 0l-9.4-9.4M553.3 566.3l8.4 8.4m0 3.6l-8.4 8.4m-1.6 0l-9.4-9.4M570.3 566.3l8.4 8.4m0 3.6l-8.4 8.4m-1.6 0l-9.4-9.4M587.3 566.3l8.4 8.4m0 3.6l-8.4 8.4m-1.6 0l-9.4-9.4M604.3 566.3l8.4 8.4m0 3.6l-8.4 8.4m-1.6 0l-9.4-9.4M621.3 566.3l8.4 8.4m0 3.6l-8.4 8.4m-1.6 0l-9.4-9.4M638.3 566.3l8.4 8.4m0 3.6l-8.4 8.4m-1.6 0l-9.4-9.4M655.3 566.3l8.4 8.4m0 3.6l-8.4 8.4m-1.6 0l-9.4-9.4M672.3 566.3l8.4 8.4m0 3.6l-8.4 8.4m-1.6 0l-9.4-9.4M689.3 566.3l9.4 9.4m0 1.6l-9.4 9.4m-1.6 0l-9.4-9.4M407.3 594.3l8.4 8.4m0 3.6l-8.4 8.4m-1.6 0l-9.4-9.4M424.3 594.3l8.4 8.4m0 3.6l-8.4 8.4m-1.6 0l-9.4-9.4M441.3 594.3l8.4 8.4m0 3.6l-8.4 8.4m-1.6 0l-9.4-9.4M458.3 594.3l8.4 8.4m0 3.6l-8.4 8.4m-1.6 0l-9.4-9.4M475.3 594.3l8.4 8.4m0 3.6l-8.4 8.4m-1.6 0l-9.4-9.4M492.3 594.3l8.4 8.4m0 3.6l-8.4 8.4m-1.6 0l-9.4-9.4M509.3 594.3l8.4 8.4m0 3.6l-8.4 8.4m-1.6 0l-9.4-9.4M526.3 594.3l8.4 8.4m0 3.6l-8.4 8.4m-1.6 0l-9.4-9.4M543.3 594.3l8.4 8.4m0 3.6l-8.4 8.4m-1.6 0l-9.4-9.4M561.3 594.3l8.4 8.4m0 3.6l-8.4 8.4m-1.6 0l-9.4-9.4M578.3 594.3l8.4 8.4m0 3.6l-8.4 8.4m-1.6 0l-9.4-9.4M595.3 594.3l8.4 8.4m0 3.6l-8.4 8.4m-1.6 0l-9.4-9.4M612.3 594.3l8.4 8.4m0 3.6l-8.4 8.4m-1.6 0l-9.4-9.4M629.3 594.3l8.4 8.4m0 3.6l-8.4 8.4m-1.6 0l-9.4-9.4M646.3 594.3l8.4 8.4m0 3.6l-8.4 8.4m-1.6 0l-9.4-9.4M663.3 594.3l8.4 8.4m0 3.6l-8.4 8.4m-1.6 0l-9.4-9.4M680.3 594.3l8.4 8.4m0 3.6l-8.4 8.4m-1.6 0l-9.4-9.4M697.3 594.3l9.4 9.4m0 1.6l-9.4 9.4m-1.6 0l-9.4-9.4M416.3 622.3l8.4 8.4m0 3.6l-8.4 8.4m-1.6 0l-9.4-9.4M433.3 622.3l8.4 8.4m0 3.6l-8.4 8.4m-1.6 0l-9.4-9.4M450.3 622.3l8.4 8.4m0 3.6l-8.4 8.4m-1.6 0l-9.4-9.4M467.3 622.3l8.4 8.4m0 3.6l-8.4 8.4m-1.6 0l-9.4-9.4M485.3 622.3l8.4 8.4m0 3.6l-8.4 8.4m-1.6 0l-9.4-9.4M502.3 622.3l8.4 8.4m0 3.6l-8.4 8.4m-1.6 0l-9.4-9.4M519.3 622.3l8.4 8.4m0 3.6l-8.4 8.4m-1.6 0l-9.4-9.4M536.3 622.3l8.4 8.4m0 3.6l-8.4 8.4m-1.6 0l-9.4-9.4M553.3 622.3l8.4 8.4m0 3.6l-8.4 8.4m-1.6 0l-9.4-9.4M570.3 622.3l8.4 8.4m0 3.6l-8.4 8.4m-1.6 0l-9.4-9.4M587.3 622.3l8.4 8.4m0 3.6l-8.4 8.4m-1.6 0l-9.4-9.4M604.3 622.3l8.4 8.4m0 3.6l-8.4 8.4m-1.6 0l-9.4-9.4M621.3 622.3l8.4 8.4m0 3.6l-8.4 8.4m-1.6 0l-9.4-9.4M639.3 622.3l8.4 8.4m0 3.6l-8.4 8.4m-1.6 0l-9.4-9.4M656.3 622.3l8.4 8.4m0 3.6l-8.4 8.4m-1.6 0l-9.4-9.4M673.3 622.3l8.4 8.4m0 3.6l-8.4 8.4m-1.6 0l-9.4-9.4M690.3 622.3l9.4 9.4m0 1.6l-9.4 9.4m-1.6 0l-9.4-9.4M407.3 650.3l8.4 8.4m0 3.6l-8.4 8.4m-1.6 0l-9.4-9.4M424.3 650.3l8.4 8.4m0 3.6l-8.4 8.4m-1.6 0l-9.4-9.4M441.3 650.3l8.4 8.4m0 3.6l-8.4 8.4m-1.6 0l-9.4-9.4M458.3 650.3l8.4 8.4m0 3.6l-8.4 8.4m-1.6 0l-9.4-9.4M475.3 650.3l8.4 8.4m0 3.6l-8.4 8.4m-1.6 0l-9.4-9.4M492.3 650.3l8.4 8.4m0 3.6l-8.4 8.4m-1.6 0l-9.4-9.4M509.3 650.3l8.4 8.4m0 3.6l-8.4 8.4m-1.6 0l-9.4-9.4M526.3 650.3l8.4 8.4m0 3.6l-8.4 8.4m-1.6 0l-9.4-9.4M543.3 650.3l8.4 8.4m0 3.6l-8.4 8.4m-1.6 0l-9.4-9.4M561.3 650.3l8.4 8.4m0 3.6l-8.4 8.4m-1.6 0l-9.4-9.4M578.3 650.3l8.4 8.4m0 3.6l-8.4 8.4m-1.6 0l-9.4-9.4M595.3 650.3l8.4 8.4m0 3.6l-8.4 8.4m-1.6 0l-9.4-9.4M612.3 650.3l8.4 8.4m0 3.6l-8.4 8.4m-1.6 0l-9.4-9.4M629.3 650.3l8.4 8.4m0 3.6l-8.4 8.4m-1.6 0l-9.4-9.4M646.3 650.3l8.4 8.4m0 3.6l-8.4 8.4m-1.6 0l-9.4-9.4M663.3 650.3l8.4 8.4m0 3.6l-8.4 8.4m-1.6 0l-9.4-9.4M680.3 650.3l8.4 8.4m0 3.6l-8.4 8.4m-1.6 0l-9.4-9.4M697.3 650.3l9.4 9.4m0 1.6l-9.4 9.4m-1.6 0l-9.4-9.4M406.3 706.3l8.4 8.4m0 3.6l-8.4 8.4m-1.6 0l-9.4-9.4M423.3 706.3l8.4 8.4m0 3.6l-8.4 8.4m-1.6 0l-9.4-9.4M440.3 706.3l8.4 8.4m0 3.6l-8.4 8.4m-1.6 0l-9.4-9.4M457.3 706.3l8.4 8.4m0 3.6l-8.4 8.4m-1.6 0l-9.4-9.4M474.3 706.3l8.4 8.4m0 3.6l-8.4 8.4m-1.6 0l-9.4-9.4M492.3 706.3l8.4 8.4m0 3.6l-8.4 8.4m-1.6 0l-9.4-9.4M509.3 706.3l8.4 8.4m0 3.6l-8.4 8.4m-1.6 0l-9.4-9.4M526.3 706.3l8.4 8.4m0 3.6l-8.4 8.4m-1.6 0l-9.4-9.4M543.3 706.3l8.4 8.4m0 3.6l-8.4 8.4m-1.6 0l-9.4-9.4M560.3 706.3l8.4 8.4m0 3.6l-8.4 8.4m-1.6 0l-9.4-9.4M577.3 706.3l8.4 8.4m0 3.6l-8.4 8.4m-1.6 0l-9.4-9.4M594.3 706.3l8.4 8.4m0 3.6l-8.4 8.4m-1.6 0l-9.4-9.4M611.3 706.3l8.4 8.4m0 3.6l-8.4 8.4m-1.6 0l-9.4-9.4M629.3 706.3l8.4 8.4m0 3.6l-8.4 8.4m-1.6 0l-9.4-9.4M646.3 706.3l8.4 8.4m0 3.6l-8.4 8.4m-1.6 0l-9.4-9.4M663.3 706.3l8.4 8.4m0 3.6l-8.4 8.4m-1.6 0l-9.4-9.4M680.3 706.3l8.4 8.4m0 3.6l-8.4 8.4m-1.6 0l-9.4-9.4M697.3 706.3l9.4 9.4m0 1.6l-9.4 9.4m-1.6 0l-9.4-9.4M390.3 734.3l8.4 8.4m0 3.6l-8.4 8.4m-1.6 0l-9.4-9.4M407.3 734.3l8.4 8.4m0 3.6l-8.4 8.4m-1.6 0l-9.4-9.4M424.3 734.3l8.4 8.4m0 3.6l-8.4 8.4m-1.6 0l-9.4-9.4M441.3 734.3l8.4 8.4m0 3.6l-8.4 8.4m-1.6 0l-9.4-9.4M458.3 734.3l8.4 8.4m0 3.6l-8.4 8.4m-1.6 0l-9.4-9.4M475.3 734.3l8.4 8.4m0 3.6l-8.4 8.4m-1.6 0l-9.4-9.4M492.3 734.3l8.4 8.4m0 3.6l-8.4 8.4m-1.6 0l-9.4-9.4M509.3 734.3l8.4 8.4m0 3.6l-8.4 8.4m-1.6 0l-9.4-9.4M526.3 734.3l8.4 8.4m0 3.6l-8.4 8.4m-1.6 0l-9.4-9.4M543.3 734.3l8.4 8.4m0 3.6l-8.4 8.4m-1.6 0l-9.4-9.4M561.3 734.3l8.4 8.4m0 3.6l-8.4 8.4m-1.6 0l-9.4-9.4M578.3 734.3l8.4 8.4m0 3.6l-8.4 8.4m-1.6 0l-9.4-9.4M595.3 734.3l8.4 8.4m0 3.6l-8.4 8.4m-1.6 0l-9.4-9.4M612.3 734.3l8.4 8.4m0 3.6l-8.4 8.4m-1.6 0l-9.4-9.4M629.3 734.3l8.4 8.4m0 3.6l-8.4 8.4m-1.6 0l-9.4-9.4M646.3 734.3l8.4 8.4m0 3.6l-8.4 8.4m-1.6 0l-9.4-9.4M663.3 734.3l8.4 8.4m0 3.6l-8.4 8.4m-1.6 0l-9.4-9.4M680.3 734.3l8.4 8.4m0 3.6l-8.4 8.4m-1.6 0l-9.4-9.4M697.3 734.3l8.4 8.4m0 3.6l-8.4 8.4m-1.6 0l-9.4-9.4M714.3 734.3l9.4 9.4m0 1.6l-9.4 9.4m-1.6 0l-9.4-9.4M373.3 762.3l8.4 8.4m0 3.6l-8.4 8.4m-1.6 0l-9.4-9.4M390.3 762.3l8.4 8.4m0 3.6l-8.4 8.4m-1.6 0l-9.4-9.4M407.3 762.3l8.4 8.4m0 3.6l-8.4 8.4m-1.6 0l-9.4-9.4M424.3 762.3l8.4 8.4m0 3.6l-8.4 8.4m-1.6 0l-9.4-9.4M441.3 762.3l8.4 8.4m0 3.6l-8.4 8.4m-1.6 0l-9.4-9.4M458.3 762.3l8.4 8.4m0 3.6l-8.4 8.4m-1.6 0l-9.4-9.4M476.3 762.3l8.4 8.4m0 3.6l-8.4 8.4m-1.6 0l-9.4-9.4M493.3 762.3l8.4 8.4m0 3.6l-8.4 8.4m-1.6 0l-9.4-9.4M510.3 762.3l8.4 8.4m0 3.6l-8.4 8.4m-1.6 0l-9.4-9.4M527.3 762.3l8.4 8.4m0 3.6l-8.4 8.4m-1.6 0l-9.4-9.4M544.3 762.3l8.4 8.4m0 3.6l-8.4 8.4m-1.6 0l-9.4-9.4M561.3 762.3l8.4 8.4m0 3.6l-8.4 8.4m-1.6 0l-9.4-9.4M578.3 762.3l8.4 8.4m0 3.6l-8.4 8.4m-1.6 0l-9.4-9.4M595.3 762.3l8.4 8.4m0 3.6l-8.4 8.4m-1.6 0l-9.4-9.4M612.3 762.3l8.4 8.4m0 3.6l-8.4 8.4m-1.6 0l-9.4-9.4M629.3 762.3l8.4 8.4m0 3.6l-8.4 8.4m-1.6 0l-9.4-9.4M647.3 762.3l8.4 8.4m0 3.6l-8.4 8.4m-1.6 0l-9.4-9.4M664.3 762.3l8.4 8.4m0 3.6l-8.4 8.4m-1.6 0l-9.4-9.4M681.3 762.3l8.4 8.4m0 3.6l-8.4 8.4m-1.6 0l-9.4-9.4M698.3 762.3l8.4 8.4m0 3.6l-8.4 8.4m-1.6 0l-9.4-9.4M715.3 762.3l8.4 8.4m0 3.6l-8.4 8.4m-1.6 0l-9.4-9.4M732.3 762.3l9.4 9.4m0 1.6l-9.4 9.4m-1.6 0l-9.4-9.4M373.3 790.3l8.4 8.4m0 3.6l-8.4 8.4m-1.6 0l-9.4-9.4M390.3 790.3l8.4 8.4m0 3.6l-8.4 8.4m-1.6 0l-9.4-9.4M407.3 790.3l8.4 8.4m0 3.6l-8.4 8.4m-1.6 0l-9.4-9.4M424.3 790.3l8.4 8.4m0 3.6l-8.4 8.4m-1.6 0l-9.4-9.4M441.3 790.3l8.4 8.4m0 3.6l-8.4 8.4m-1.6 0l-9.4-9.4M458.3 790.3l8.4 8.4m0 3.6l-8.4 8.4m-1.6 0l-9.4-9.4M476.3 790.3l8.4 8.4m0 3.6l-8.4 8.4m-1.6 0l-9.4-9.4M493.3 790.3l8.4 8.4m0 3.6l-8.4 8.4m-1.6 0l-9.4-9.4M510.3 790.3l8.4 8.4m0 3.6l-8.4 8.4m-1.6 0l-9.4-9.4M527.3 790.3l8.4 8.4m0 3.6l-8.4 8.4m-1.6 0l-9.4-9.4M544.3 790.3l8.4 8.4m0 3.6l-8.4 8.4m-1.6 0l-9.4-9.4M561.3 790.3l8.4 8.4m0 3.6l-8.4 8.4m-1.6 0l-9.4-9.4M578.3 790.3l8.4 8.4m0 3.6l-8.4 8.4m-1.6 0l-9.4-9.4M595.3 790.3l8.4 8.4m0 3.6l-8.4 8.4m-1.6 0l-9.4-9.4M612.3 790.3l8.4 8.4m0 3.6l-8.4 8.4m-1.6 0l-9.4-9.4M629.3 790.3l8.4 8.4m0 3.6l-8.4 8.4m-1.6 0l-9.4-9.4M647.3 790.3l8.4 8.4m0 3.6l-8.4 8.4m-1.6 0l-9.4-9.4M664.3 790.3l8.4 8.4m0 3.6l-8.4 8.4m-1.6 0l-9.4-9.4M681.3 790.3l8.4 8.4m0 3.6l-8.4 8.4m-1.6 0l-9.4-9.4M698.3 790.3l8.4 8.4m0 3.6l-8.4 8.4m-1.6 0l-9.4-9.4M715.3 790.3l8.4 8.4m0 3.6l-8.4 8.4m-1.6 0l-9.4-9.4M732.3 790.3l9.4 9.4m0 1.6l-9.4 9.4m-1.6 0l-9.4-9.4M400.3 818.3l8.4 8.4m0 3.6l-8.4 8.4m-1.6 0l-9.4-9.4M417.3 818.3l8.4 8.4m0 3.6l-8.4 8.4m-1.6 0l-9.4-9.4M434.3 818.3l8.4 8.4m0 3.6l-8.4 8.4m-1.6 0l-9.4-9.4M451.3 818.3l8.4 8.4m0 3.6l-8.4 8.4m-1.6 0l-9.4-9.4M468.3 818.3l8.4 8.4m0 3.6l-8.4 8.4m-1.6 0l-9.4-9.4M486.3 818.3l8.4 8.4m0 3.6l-8.4 8.4m-1.6 0l-9.4-9.4M503.3 818.3l8.4 8.4m0 3.6l-8.4 8.4m-1.6 0l-9.4-9.4M520.3 818.3l8.4 8.4m0 3.6l-8.4 8.4m-1.6 0l-9.4-9.4M537.3 818.3l8.4 8.4m0 3.6l-8.4 8.4m-1.6 0l-9.4-9.4M554.3 818.3l8.4 8.4m0 3.6l-8.4 8.4m-1.6 0l-9.4-9.4M571.3 818.3l8.4 8.4m0 3.6l-8.4 8.4m-1.6 0l-9.4-9.4M588.3 818.3l8.4 8.4m0 3.6l-8.4 8.4m-1.6 0l-9.4-9.4M605.3 818.3l8.4 8.4m0 3.6l-8.4 8.4m-1.6 0l-9.4-9.4M622.3 818.3l8.4 8.4m0 3.6l-8.4 8.4m-1.6 0l-9.4-9.4M640.3 818.3l8.4 8.4m0 3.6l-8.4 8.4m-1.6 0l-9.4-9.4M657.3 818.3l8.4 8.4m0 3.6l-8.4 8.4m-1.6 0l-9.4-9.4M674.3 818.3l8.4 8.4m0 3.6l-8.4 8.4m-1.6 0l-9.4-9.4M691.3 818.3l8.4 8.4m0 3.6l-8.4 8.4m-1.6 0l-9.4-9.4M708.3 818.3l9.4 9.4m0 1.6l-9.4 9.4m-1.6 0l-9.4-9.4M379.3 865.3l8.4 8.4m0 3.6l-8.4 8.4m-1.6 0l-9.4-9.4M396.3 865.3l8.4 8.4m0 3.6l-8.4 8.4m-1.6 0l-9.4-9.4M413.3 865.3l8.4 8.4m0 3.6l-8.4 8.4m-1.6 0l-9.4-9.4M430.3 865.3l8.4 8.4m0 3.6l-8.4 8.4m-1.6 0l-9.4-9.4M447.3 865.3l8.4 8.4m0 3.6l-8.4 8.4m-1.6 0l-9.4-9.4M464.3 865.3l8.4 8.4m0 3.6l-8.4 8.4m-1.6 0l-9.4-9.4M481.3 865.3l8.4 8.4m0 3.6l-8.4 8.4m-1.6 0l-9.4-9.4M498.3 865.3l8.4 8.4m0 3.6l-8.4 8.4m-1.6 0l-9.4-9.4M515.3 865.3l9.4 9.4m0 1.6l-9.4 9.4m-1.6 0l-9.4-9.4M588.3 865.3l8.4 8.4m0 3.6l-8.4 8.4m-1.6 0l-9.4-9.4M605.3 865.3l8.4 8.4m0 3.6l-8.4 8.4m-1.6 0l-9.4-9.4M622.3 865.3l8.4 8.4m0 3.6l-8.4 8.4m-1.6 0l-9.4-9.4M639.3 865.3l8.4 8.4m0 3.6l-8.4 8.4m-1.6 0l-9.4-9.4M656.3 865.3l8.4 8.4m0 3.6l-8.4 8.4m-1.6 0l-9.4-9.4M673.3 865.3l8.4 8.4m0 3.6l-8.4 8.4m-1.6 0l-9.4-9.4M690.3 865.3l8.4 8.4m0 3.6l-8.4 8.4m-1.6 0l-9.4-9.4M707.3 865.3l8.4 8.4m0 3.6l-8.4 8.4m-1.6 0l-9.4-9.4M724.3 865.3l8.4 8.4m0 3.6l-8.4 8.4m-1.6 0l-9.4-9.4M741.3 865.3l9.4 9.4m0 1.6l-9.4 9.4m-1.6 0l-9.4-9.4M379.3 893.3l8.4 8.4m0 3.6l-8.4 8.4m-1.6 0l-9.4-9.4M396.3 893.3l8.4 8.4m0 3.6l-8.4 8.4m-1.6 0l-9.4-9.4M413.3 893.3l8.4 8.4m0 3.6l-8.4 8.4m-1.6 0l-9.4-9.4M430.3 893.3l8.4 8.4m0 3.6l-8.4 8.4m-1.6 0l-9.4-9.4M447.3 893.3l8.4 8.4m0 3.6l-8.4 8.4m-1.6 0l-9.4-9.4M464.3 893.3l8.4 8.4m0 3.6l-8.4 8.4m-1.6 0l-9.4-9.4M481.3 893.3l8.4 8.4m0 3.6l-8.4 8.4m-1.6 0l-9.4-9.4M498.3 893.3l8.4 8.4m0 3.6l-8.4 8.4m-1.6 0l-9.4-9.4M515.3 893.3l9.4 9.4m0 1.6l-9.4 9.4m-1.6 0l-9.4-9.4M588.3 893.3l8.4 8.4m0 3.6l-8.4 8.4m-1.6 0l-9.4-9.4M605.3 893.3l8.4 8.4m0 3.6l-8.4 8.4m-1.6 0l-9.4-9.4M622.3 893.3l8.4 8.4m0 3.6l-8.4 8.4m-1.6 0l-9.4-9.4M639.3 893.3l8.4 8.4m0 3.6l-8.4 8.4m-1.6 0l-9.4-9.4M656.3 893.3l8.4 8.4m0 3.6l-8.4 8.4m-1.6 0l-9.4-9.4M673.3 893.3l8.4 8.4m0 3.6l-8.4 8.4m-1.6 0l-9.4-9.4M690.3 893.3l8.4 8.4m0 3.6l-8.4 8.4m-1.6 0l-9.4-9.4M707.3 893.3l8.4 8.4m0 3.6l-8.4 8.4m-1.6 0l-9.4-9.4M724.3 893.3l8.4 8.4m0 3.6l-8.4 8.4m-1.6 0l-9.4-9.4M741.3 893.3l9.4 9.4m0 1.6l-9.4 9.4m-1.6 0l-9.4-9.4M379.3 921.3l8.4 8.4m0 3.6l-8.4 8.4m-1.6 0l-9.4-9.4M396.3 921.3l8.4 8.4m0 3.6l-8.4 8.4m-1.6 0l-9.4-9.4M413.3 921.3l8.4 8.4m0 3.6l-8.4 8.4m-1.6 0l-9.4-9.4M430.3 921.3l8.4 8.4m0 3.6l-8.4 8.4m-1.6 0l-9.4-9.4M447.3 921.3l8.4 8.4m0 3.6l-8.4 8.4m-1.6 0l-9.4-9.4M464.3 921.3l8.4 8.4m0 3.6l-8.4 8.4m-1.6 0l-9.4-9.4M481.3 921.3l8.4 8.4m0 3.6l-8.4 8.4m-1.6 0l-9.4-9.4M498.3 921.3l8.4 8.4m0 3.6l-8.4 8.4m-1.6 0l-9.4-9.4M515.3 921.3l9.4 9.4m0 1.6l-9.4 9.4m-1.6 0l-9.4-9.4M588.3 921.3l8.4 8.4m0 3.6l-8.4 8.4m-1.6 0l-9.4-9.4M605.3 921.3l8.4 8.4m0 3.6l-8.4 8.4m-1.6 0l-9.4-9.4M622.3 921.3l8.4 8.4m0 3.6l-8.4 8.4m-1.6 0l-9.4-9.4M639.3 921.3l8.4 8.4m0 3.6l-8.4 8.4m-1.6 0l-9.4-9.4M656.3 921.3l8.4 8.4m0 3.6l-8.4 8.4m-1.6 0l-9.4-9.4M673.3 921.3l8.4 8.4m0 3.6l-8.4 8.4m-1.6 0l-9.4-9.4M690.3 921.3l8.4 8.4m0 3.6l-8.4 8.4m-1.6 0l-9.4-9.4M707.3 921.3l8.4 8.4m0 3.6l-8.4 8.4m-1.6 0l-9.4-9.4M724.3 921.3l8.4 8.4m0 3.6l-8.4 8.4m-1.6 0l-9.4-9.4M741.3 921.3l9.4 9.4m0 1.6l-9.4 9.4m-1.6 0l-9.4-9.4M379.3 949.3l8.4 8.4m0 3.6l-8.4 8.4m-1.6 0l-9.4-9.4M396.3 949.3l8.4 8.4m0 3.6l-8.4 8.4m-1.6 0l-9.4-9.4M413.3 949.3l8.4 8.4m0 3.6l-8.4 8.4m-1.6 0l-9.4-9.4M430.3 949.3l8.4 8.4m0 3.6l-8.4 8.4m-1.6 0l-9.4-9.4M447.3 949.3l8.4 8.4m0 3.6l-8.4 8.4m-1.6 0l-9.4-9.4M464.3 949.3l8.4 8.4m0 3.6l-8.4 8.4m-1.6 0l-9.4-9.4M481.3 949.3l8.4 8.4m0 3.6l-8.4 8.4m-1.6 0l-9.4-9.4M498.3 949.3l8.4 8.4m0 3.6l-8.4 8.4m-1.6 0l-9.4-9.4M515.3 949.3l9.4 9.4m0 1.6l-9.4 9.4m-1.6 0l-9.4-9.4M588.3 949.3l8.4 8.4m0 3.6l-8.4 8.4m-1.6 0l-9.4-9.4M605.3 949.3l8.4 8.4m0 3.6l-8.4 8.4m-1.6 0l-9.4-9.4M622.3 949.3l8.4 8.4m0 3.6l-8.4 8.4m-1.6 0l-9.4-9.4M639.3 949.3l8.4 8.4m0 3.6l-8.4 8.4m-1.6 0l-9.4-9.4M656.3 949.3l8.4 8.4m0 3.6l-8.4 8.4m-1.6 0l-9.4-9.4M673.3 949.3l8.4 8.4m0 3.6l-8.4 8.4m-1.6 0l-9.4-9.4M690.3 949.3l8.4 8.4m0 3.6l-8.4 8.4m-1.6 0l-9.4-9.4M707.3 949.3l8.4 8.4m0 3.6l-8.4 8.4m-1.6 0l-9.4-9.4M724.3 949.3l8.4 8.4m0 3.6l-8.4 8.4m-1.6 0l-9.4-9.4M741.3 949.3l9.4 9.4m0 1.6l-9.4 9.4m-1.6 0l-9.4-9.4M379.3 977.3l8.4 8.4m0 3.6l-8.4 8.4m-1.6 0l-9.4-9.4M396.3 977.3l8.4 8.4m0 3.6l-8.4 8.4m-1.6 0l-9.4-9.4M413.3 977.3l8.4 8.4m0 3.6l-8.4 8.4m-1.6 0l-9.4-9.4M430.3 977.3l8.4 8.4m0 3.6l-8.4 8.4m-1.6 0l-9.4-9.4M447.3 977.3l8.4 8.4m0 3.6l-8.4 8.4m-1.6 0l-9.4-9.4M464.3 977.3l8.4 8.4m0 3.6l-8.4 8.4m-1.6 0l-9.4-9.4M481.3 977.3l8.4 8.4m0 3.6l-8.4 8.4m-1.6 0l-9.4-9.4M498.3 977.3l8.4 8.4m0 3.6l-8.4 8.4m-1.6 0l-9.4-9.4M515.3 977.3l9.4 9.4m0 1.6l-9.4 9.4m-1.6 0l-9.4-9.4M588.3 977.3l8.4 8.4m0 3.6l-8.4 8.4m-1.6 0l-9.4-9.4M605.3 977.3l8.4 8.4m0 3.6l-8.4 8.4m-1.6 0l-9.4-9.4M622.3 977.3l8.4 8.4m0 3.6l-8.4 8.4m-1.6 0l-9.4-9.4M639.3 977.3l8.4 8.4m0 3.6l-8.4 8.4m-1.6 0l-9.4-9.4M656.3 977.3l8.4 8.4m0 3.6l-8.4 8.4m-1.6 0l-9.4-9.4M673.3 977.3l8.4 8.4m0 3.6l-8.4 8.4m-1.6 0l-9.4-9.4M690.3 977.3l8.4 8.4m0 3.6l-8.4 8.4m-1.6 0l-9.4-9.4M707.3 977.3l8.4 8.4m0 3.6l-8.4 8.4m-1.6 0l-9.4-9.4M724.3 977.3l8.4 8.4m0 3.6l-8.4 8.4m-1.6 0l-9.4-9.4M741.3 977.3l9.4 9.4m0 1.6l-9.4 9.4m-1.6 0l-9.4-9.4M379.3 1005.3l8.4 8.4m0 3.6l-8.4 8.4m-1.6 0l-9.4-9.4M396.3 1005.3l8.4 8.4m0 3.6l-8.4 8.4m-1.6 0l-9.4-9.4M413.3 1005.3l8.4 8.4m0 3.6l-8.4 8.4m-1.6 0l-9.4-9.4M430.3 1005.3l8.4 8.4m0 3.6l-8.4 8.4m-1.6 0l-9.4-9.4M447.3 1005.3l8.4 8.4m0 3.6l-8.4 8.4m-1.6 0l-9.4-9.4M464.3 1005.3l8.4 8.4m0 3.6l-8.4 8.4m-1.6 0l-9.4-9.4M481.3 1005.3l8.4 8.4m0 3.6l-8.4 8.4m-1.6 0l-9.4-9.4M498.3 1005.3l8.4 8.4m0 3.6l-8.4 8.4m-1.6 0l-9.4-9.4M515.3 1005.3l9.4 9.4m0 1.6l-9.4 9.4m-1.6 0l-9.4-9.4M588.3 1005.3l8.4 8.4m0 3.6l-8.4 8.4m-1.6 0l-9.4-9.4M605.3 1005.3l8.4 8.4m0 3.6l-8.4 8.4m-1.6 0l-9.4-9.4M622.3 1005.3l8.4 8.4m0 3.6l-8.4 8.4m-1.6 0l-9.4-9.4M639.3 1005.3l8.4 8.4m0 3.6l-8.4 8.4m-1.6 0l-9.4-9.4M656.3 1005.3l8.4 8.4m0 3.6l-8.4 8.4m-1.6 0l-9.4-9.4M673.3 1005.3l8.4 8.4m0 3.6l-8.4 8.4m-1.6 0l-9.4-9.4M690.3 1005.3l8.4 8.4m0 3.6l-8.4 8.4m-1.6 0l-9.4-9.4M707.3 1005.3l8.4 8.4m0 3.6l-8.4 8.4m-1.6 0l-9.4-9.4M724.3 1005.3l8.4 8.4m0 3.6l-8.4 8.4m-1.6 0l-9.4-9.4M741.3 1005.3l9.4 9.4m0 1.6l-9.4 9.4m-1.6 0l-9.4-9.4M391.3 1033.3l8.4 8.4m0 3.6l-8.4 8.4m-1.6 0l-9.4-9.4M408.3 1033.3l8.4 8.4m0 3.6l-8.4 8.4m-1.6 0l-9.4-9.4M425.3 1033.3l8.4 8.4m0 3.6l-8.4 8.4m-1.6 0l-9.4-9.4M442.3 1033.3l8.4 8.4m0 3.6l-8.4 8.4m-1.6 0l-9.4-9.4M459.3 1033.3l8.4 8.4m0 3.6l-8.4 8.4m-1.6 0l-9.4-9.4M476.3 1033.3l8.4 8.4m0 3.6l-8.4 8.4m-1.6 0l-9.4-9.4M493.3 1033.3l8.4 8.4m0 3.6l-8.4 8.4m-1.6 0l-9.4-9.4M510.3 1033.3l8.4 8.4m0 3.6l-8.4 8.4m-1.6 0l-9.4-9.4M527.3 1033.3l8.4 8.4m0 3.6l-8.4 8.4m-1.6 0l-9.4-9.4M544.3 1033.3l8.4 8.4m0 3.6l-8.4 8.4m-1.6 0l-9.4-9.4M561.3 1033.3l8.4 8.4m0 3.6l-8.4 8.4m-1.6 0l-9.4-9.4M579.3 1033.3l8.4 8.4m0 3.6l-8.4 8.4m-1.6 0l-9.4-9.4M596.3 1033.3l8.4 8.4m0 3.6l-8.4 8.4m-1.6 0l-9.4-9.4M613.3 1033.3l8.4 8.4m0 3.6l-8.4 8.4m-1.6 0l-9.4-9.4M630.3 1033.3l8.4 8.4m0 3.6l-8.4 8.4m-1.6 0l-9.4-9.4M647.3 1033.3l8.4 8.4m0 3.6l-8.4 8.4m-1.6 0l-9.4-9.4M664.3 1033.3l8.4 8.4m0 3.6l-8.4 8.4m-1.6 0l-9.4-9.4M681.3 1033.3l8.4 8.4m0 3.6l-8.4 8.4m-1.6 0l-9.4-9.4M698.3 1033.3l8.4 8.4m0 3.6l-8.4 8.4m-1.6 0l-9.4-9.4M715.3 1033.3l8.4 8.4m0 3.6l-8.4 8.4m-1.6 0l-9.4-9.4M732.3 1033.3l9.4 9.4m0 1.6l-9.4 9.4m-1.6 0l-9.4-9.4M95.3 434.3l9.4 9.4m0 1.6l-9.4 9.4m-1.6 0l-9.4-9.4M105.3 448.3l9.4 9.4m0 1.6l-9.4 9.4m-1.6 0l-9.4-9.4M114.3 462.3l9.4 9.4m0 1.6l-9.4 9.4m-1.6 0l-9.4-9.4M123.3 476.3l9.4 9.4m0 1.6l-9.4 9.4m-1.6 0l-9.4-9.4M133.3 490.3l9.4 9.4m0 1.6l-9.4 9.4m-1.6 0l-9.4-9.4M143.3 505.3l9.4 9.4m0 1.6l-9.4 9.4m-1.6 0l-9.4-9.4M152.3 519.3l9.4 9.4m0 1.6l-9.4 9.4m-1.6 0l-9.4-9.4M161.3 533.3l9.4 9.4m0 1.6l-9.4 9.4m-1.6 0l-9.4-9.4M171.3 547.3l9.4 9.4m0 1.6l-9.4 9.4m-1.6 0l-9.4-9.4M181.3 561.3l9.4 9.4m0 1.6l-9.4 9.4m-1.6 0l-9.4-9.4M190.3 575.3l9.4 9.4m0 1.6l-9.4 9.4m-1.6 0l-9.4-9.4M199.3 589.3l9.4 9.4m0 1.6l-9.4 9.4m-1.6 0l-9.4-9.4M209.3 604.3l9.4 9.4m0 1.6l-9.4 9.4m-1.6 0l-9.4-9.4M219.3 618.3l9.4 9.4m0 1.6l-9.4 9.4m-1.6 0l-9.4-9.4M228.3 632.3l9.4 9.4m0 1.6l-9.4 9.4m-1.6 0l-9.4-9.4M237.3 646.3l9.4 9.4m0 1.6l-9.4 9.4m-1.6 0l-9.4-9.4M247.3 660.3l9.4 9.4m0 1.6l-9.4 9.4m-1.6 0l-9.4-9.4M72.3 450.3l9.4 9.4m0 1.6l-9.4 9.4m-1.6 0l-9.4-9.4M81.3 464.3l9.4 9.4m0 1.6l-9.4 9.4m-1.6 0l-9.4-9.4M91.3 478.3l9.4 9.4m0 1.6l-9.4 9.4m-1.6 0l-9.4-9.4M101.3 492.3l9.4 9.4m0 1.6l-9.4 9.4m-1.6 0l-9.4-9.4M110.3 506.3l9.4 9.4m0 1.6l-9.4 9.4m-1.6 0l-9.4-9.4M119.3 521.3l9.4 9.4m0 1.6l-9.4 9.4m-1.6 0l-9.4-9.4M129.3 535.3l9.4 9.4m0 1.6l-9.4 9.4m-1.6 0l-9.4-9.4M139.3 549.3l9.4 9.4m0 1.6l-9.4 9.4m-1.6 0l-9.4-9.4M148.3 563.3l9.4 9.4m0 1.6l-9.4 9.4m-1.6 0l-9.4-9.4M157.3 577.3l9.4 9.4m0 1.6l-9.4 9.4m-1.6 0l-9.4-9.4M167.3 591.3l9.4 9.4m0 1.6l-9.4 9.4m-1.6 0l-9.4-9.4M177.3 605.3l9.4 9.4m0 1.6l-9.4 9.4m-1.6 0l-9.4-9.4M186.3 620.3l9.4 9.4m0 1.6l-9.4 9.4m-1.6 0l-9.4-9.4M195.3 634.3l9.4 9.4m0 1.6l-9.4 9.4m-1.6 0l-9.4-9.4M205.3 648.3l9.4 9.4m0 1.6l-9.4 9.4m-1.6 0l-9.4-9.4M215.3 662.3l9.4 9.4m0 1.6l-9.4 9.4m-1.6 0l-9.4-9.4M224.3 676.3l9.4 9.4m0 1.6l-9.4 9.4m-1.6 0l-9.4-9.4M48.3 465.3l9.4 9.4m0 1.6l-9.4 9.4m-1.6 0l-9.4-9.4M58.3 479.3l9.4 9.4m0 1.6l-9.4 9.4m-1.6 0l-9.4-9.4M67.3 493.3l9.4 9.4m0 1.6l-9.4 9.4m-1.6 0l-9.4-9.4M77.3 507.3l9.4 9.4m0 1.6l-9.4 9.4m-1.6 0l-9.4-9.4M86.3 522.3l9.4 9.4m0 1.6l-9.4 9.4m-1.6 0l-9.4-9.4M96.3 536.3l9.4 9.4m0 1.6l-9.4 9.4m-1.6 0l-9.4-9.4M106.3 550.3l9.4 9.4m0 1.6l-9.4 9.4m-1.6 0l-9.4-9.4M115.3 564.3l9.4 9.4m0 1.6l-9.4 9.4m-1.6 0l-9.4-9.4M125.3 578.3l9.4 9.4m0 1.6l-9.4 9.4m-1.6 0l-9.4-9.4M134.3 592.3l9.4 9.4m0 1.6l-9.4 9.4m-1.6 0l-9.4-9.4M144.3 606.3l9.4 9.4m0 1.6l-9.4 9.4m-1.6 0l-9.4-9.4M154.3 620.3l9.4 9.4m0 1.6l-9.4 9.4m-1.6 0l-9.4-9.4M163.3 635.3l9.4 9.4m0 1.6l-9.4 9.4m-1.6 0l-9.4-9.4M173.3 649.3l9.4 9.4m0 1.6l-9.4 9.4m-1.6 0l-9.4-9.4M182.3 663.3l9.4 9.4m0 1.6l-9.4 9.4m-1.6 0l-9.4-9.4M192.3 677.3l9.4 9.4m0 1.6l-9.4 9.4m-1.6 0l-9.4-9.4M25.3 481.3l9.4 9.4m0 1.6l-9.4 9.4m-1.6 0l-9.4-9.4M35.3 495.3l9.4 9.4m0 1.6l-9.4 9.4m-1.6 0l-9.4-9.4M44.3 509.3l9.4 9.4m0 1.6l-9.4 9.4m-1.6 0l-9.4-9.4M54.3 523.3l9.4 9.4m0 1.6l-9.4 9.4m-1.6 0l-9.4-9.4M63.3 538.3l9.4 9.4m0 1.6l-9.4 9.4m-1.6 0l-9.4-9.4M73.3 552.3l9.4 9.4m0 1.6l-9.4 9.4m-1.6 0l-9.4-9.4M83.3 566.3l9.4 9.4m0 1.6l-9.4 9.4m-1.6 0l-9.4-9.4M92.3 580.3l9.4 9.4m0 1.6l-9.4 9.4m-1.6 0l-9.4-9.4M102.3 594.3l9.4 9.4m0 1.6l-9.4 9.4m-1.6 0l-9.4-9.4M111.3 608.3l9.4 9.4m0 1.6l-9.4 9.4m-1.6 0l-9.4-9.4M121.3 622.3l9.4 9.4m0 1.6l-9.4 9.4m-1.6 0l-9.4-9.4M131.3 636.3l9.4 9.4m0 1.6l-9.4 9.4m-1.6 0l-9.4-9.4M140.3 651.3l9.4 9.4m0 1.6l-9.4 9.4m-1.6 0l-9.4-9.4M150.3 665.3l9.4 9.4m0 1.6l-9.4 9.4m-1.6 0l-9.4-9.4M159.3 679.3l9.4 9.4m0 1.6l-9.4 9.4m-1.6 0l-9.4-9.4M169.3 693.3l9.4 9.4m0 1.6l-9.4 9.4m-1.6 0l-9.4-9.4M1011.3 431.3l9.4 9.4m0 1.6l-9.4 9.4m-1.6 0l-9.4-9.4M1001.3 445.3l9.4 9.4m0 1.6l-9.4 9.4m-1.6 0l-9.4-9.4M992.3 460.3l9.4 9.4m0 1.6l-9.4 9.4m-1.6 0l-9.4-9.4M983.3 474.3l9.4 9.4m0 1.6l-9.4 9.4m-1.6 0l-9.4-9.4M973.3 488.3l9.4 9.4m0 1.6l-9.4 9.4m-1.6 0l-9.4-9.4M963.3 502.3l9.4 9.4m0 1.6l-9.4 9.4m-1.6 0l-9.4-9.4M954.3 516.3l9.4 9.4m0 1.6l-9.4 9.4m-1.6 0l-9.4-9.4M945.3 531.3l9.4 9.4m0 1.6l-9.4 9.4m-1.6 0l-9.4-9.4M935.3 545.3l9.4 9.4m0 1.6l-9.4 9.4m-1.6 0l-9.4-9.4M925.3 559.3l9.4 9.4m0 1.6l-9.4 9.4m-1.6 0l-9.4-9.4M916.3 574.3l9.4 9.4m0 1.6l-9.4 9.4m-1.6 0l-9.4-9.4M907.3 588.3l9.4 9.4m0 1.6l-9.4 9.4m-1.6 0l-9.4-9.4M897.3 602.3l9.4 9.4m0 1.6l-9.4 9.4m-1.6 0l-9.4-9.4M887.3 616.3l9.4 9.4m0 1.6l-9.4 9.4m-1.6 0l-9.4-9.4M878.3 630.3l9.4 9.4m0 1.6l-9.4 9.4m-1.6 0l-9.4-9.4M869.3 645.3l9.4 9.4m0 1.6l-9.4 9.4m-1.6 0l-9.4-9.4M859.3 659.3l9.4 9.4m0 1.6l-9.4 9.4m-1.6 0l-9.4-9.4M1034.3 447.3l9.4 9.4m0 1.6l-9.4 9.4m-1.6 0l-9.4-9.4M1025.3 461.3l9.4 9.4m0 1.6l-9.4 9.4m-1.6 0l-9.4-9.4M1015.3 476.3l9.4 9.4m0 1.6l-9.4 9.4m-1.6 0l-9.4-9.4M1006.3 490.3l9.4 9.4m0 1.6l-9.4 9.4m-1.6 0l-9.4-9.4M996.3 504.3l9.4 9.4m0 1.6l-9.4 9.4m-1.6 0l-9.4-9.4M987.3 518.3l9.4 9.4m0 1.6l-9.4 9.4m-1.6 0l-9.4-9.4M977.3 532.3l9.4 9.4m0 1.6l-9.4 9.4m-1.6 0l-9.4-9.4M968.3 547.3l9.4 9.4m0 1.6l-9.4 9.4m-1.6 0l-9.4-9.4M959.3 561.3l9.4 9.4m0 1.6l-9.4 9.4m-1.6 0l-9.4-9.4M949.3 575.3l9.4 9.4m0 1.6l-9.4 9.4m-1.6 0l-9.4-9.4M940.3 590.3l9.4 9.4m0 1.6l-9.4 9.4m-1.6 0l-9.4-9.4M930.3 604.3l9.4 9.4m0 1.6l-9.4 9.4m-1.6 0l-9.4-9.4M921.3 618.3l9.4 9.4m0 1.6l-9.4 9.4m-1.6 0l-9.4-9.4M911.3 632.3l9.4 9.4m0 1.6l-9.4 9.4m-1.6 0l-9.4-9.4M902.3 646.3l9.4 9.4m0 1.6l-9.4 9.4m-1.6 0l-9.4-9.4M892.3 661.3l9.4 9.4m0 1.6l-9.4 9.4m-1.6 0l-9.4-9.4M883.3 675.3l9.4 9.4m0 1.6l-9.4 9.4m-1.6 0l-9.4-9.4M1057.3 463.3l9.4 9.4m0 1.6l-9.4 9.4m-1.6 0l-9.4-9.4M1048.3 477.3l9.4 9.4m0 1.6l-9.4 9.4m-1.6 0l-9.4-9.4M1038.3 491.3l9.4 9.4m0 1.6l-9.4 9.4m-1.6 0l-9.4-9.4M1029.3 506.3l9.4 9.4m0 1.6l-9.4 9.4m-1.6 0l-9.4-9.4M1019.3 520.3l9.4 9.4m0 1.6l-9.4 9.4m-1.6 0l-9.4-9.4M1010.3 534.3l9.4 9.4m0 1.6l-9.4 9.4m-1.6 0l-9.4-9.4M1001.3 548.3l9.4 9.4m0 1.6l-9.4 9.4m-1.6 0l-9.4-9.4M991.3 562.3l9.4 9.4m0 1.6l-9.4 9.4m-1.6 0l-9.4-9.4M982.3 577.3l9.4 9.4m0 1.6l-9.4 9.4m-1.6 0l-9.4-9.4M972.3 591.3l9.4 9.4m0 1.6l-9.4 9.4m-1.6 0l-9.4-9.4M963.3 605.3l9.4 9.4m0 1.6l-9.4 9.4m-1.6 0l-9.4-9.4M954.3 619.3l9.4 9.4m0 1.6l-9.4 9.4m-1.6 0l-9.4-9.4M944.3 633.3l9.4 9.4m0 1.6l-9.4 9.4m-1.6 0l-9.4-9.4M935.3 648.3l9.4 9.4m0 1.6l-9.4 9.4m-1.6 0l-9.4-9.4M925.3 662.3l9.4 9.4m0 1.6l-9.4 9.4m-1.6 0l-9.4-9.4M916.3 676.3l9.4 9.4m0 1.6l-9.4 9.4m-1.6 0l-9.4-9.4M1081.3 478.3l9.4 9.4m0 1.6l-9.4 9.4m-1.6 0l-9.4-9.4M1072.3 492.3l9.4 9.4m0 1.6l-9.4 9.4m-1.6 0l-9.4-9.4M1062.3 507.3l9.4 9.4m0 1.6l-9.4 9.4m-1.6 0l-9.4-9.4M1053.3 521.3l9.4 9.4m0 1.6l-9.4 9.4m-1.6 0l-9.4-9.4M1043.3 535.3l9.4 9.4m0 1.6l-9.4 9.4m-1.6 0l-9.4-9.4M1034.3 549.3l9.4 9.4m0 1.6l-9.4 9.4m-1.6 0l-9.4-9.4M1024.3 564.3l9.4 9.4m0 1.6l-9.4 9.4m-1.6 0l-9.4-9.4M1015.3 578.3l9.4 9.4m0 1.6l-9.4 9.4m-1.6 0l-9.4-9.4M1005.3 592.3l9.4 9.4m0 1.6l-9.4 9.4m-1.6 0l-9.4-9.4M996.3 606.3l9.4 9.4m0 1.6l-9.4 9.4m-1.6 0l-9.4-9.4M986.3 621.3l9.4 9.4m0 1.6l-9.4 9.4m-1.6 0l-9.4-9.4M977.3 635.3l9.4 9.4m0 1.6l-9.4 9.4m-1.6 0l-9.4-9.4M967.3 649.3l9.4 9.4m0 1.6l-9.4 9.4m-1.6 0l-9.4-9.4M958.3 663.3l9.4 9.4m0 1.6l-9.4 9.4m-1.6 0l-9.4-9.4M948.3 678.3l9.4 9.4m0 1.6l-9.4 9.4m-1.6 0l-9.4-9.4M939.3 692.3l9.4 9.4m0 1.6l-9.4 9.4m-1.6 0l-9.4-9.4"/><path fill="#ccc" shape-rendering="crispEdges" d="M457 78h1v1h-1zm0 2h1v1h-1zM474 78h1v1h-1zm0 2h1v1h-1zM491 78h1v1h-1zm0 2h1v1h-1zM508 78h1v1h-1zm0 2h1v1h-1zM525 78h1v1h-1zm0 2h1v1h-1zM542 78h1v1h-1zm0 2h1v1h-1zM559 78h1v1h-1zm0 2h1v1h-1zM577 78h1v1h-1zm0 2h1v1h-1zM594 78h1v1h-1zm0 2h1v1h-1zM611 78h1v1h-1zm0 2h1v1h-1zM628 78h1v1h-1zm0 2h1v1h-1zM645 78h1v1h-1zm0 2h1v1h-1zM662 78h1v1h-1zm0 2h1v1h-1zM414 106h1v1h-1zm0 2h1v1h-1zM431 106h1v1h-1zm0 2h1v1h-1zM448 106h1v1h-1zm0 2h1v1h-1zM465 106h1v1h-1zm0 2h1v1h-1zM482 106h1v1h-1zm0 2h1v1h-1zM499 106h1v1h-1zm0 2h1v1h-1zM516 106h1v1h-1zm0 2h1v1h-1zM533 106h1v1h-1zm0 2h1v1h-1zM550 106h1v1h-1zm0 2h1v1h-1zM568 106h1v1h-1zm0 2h1v1h-1zM585 106h1v1h-1zm0 2h1v1h-1zM602 106h1v1h-1zm0 2h1v1h-1zM619 106h1v1h-1zm0 2h1v1h-1zM636 106h1v1h-1zm0 2h1v1h-1zM653 106h1v1h-1zm0 2h1v1h-1zM670 106h1v1h-1zm0 2h1v1h-1zM687 106h1v1h-1zm0 2h1v1h-1zM704 106h1v1h-1zm0 2h1v1h-1zM422 134h1v1h-1zm0 2h1v1h-1zM439 134h1v1h-1zm0 2h1v1h-1zM456 134h1v1h-1zm0 2h1v1h-1zM473 134h1v1h-1zm0 2h1v1h-1zM490 134h1v1h-1zm0 2h1v1h-1zM508 134h1v1h-1zm0 2h1v1h-1zM525 134h1v1h-1zm0 2h1v1h-1zM542 134h1v1h-1zm0 2h1v1h-1zM559 134h1v1h-1zm0 2h1v1h-1zM576 134h1v1h-1zm0 2h1v1h-1zM593 134h1v1h-1zm0 2h1v1h-1zM610 134h1v1h-1zm0 2h1v1h-1zM627 134h1v1h-1zm0 2h1v1h-1zM645 134h1v1h-1zm0 2h1v1h-1zM662 134h1v1h-1zm0 2h1v1h-1zM679 134h1v1h-1zm0 2h1v1h-1zM696 134h1v1h-1zm0 2h1v1h-1zM422 162h1v1h-1zm0 2h1v1h-1zM439 162h1v1h-1zm0 2h1v1h-1zM456 162h1v1h-1zm0 2h1v1h-1zM473 162h1v1h-1zm0 2h1v1h-1zM490 162h1v1h-1zm0 2h1v1h-1zM508 162h1v1h-1zm0 2h1v1h-1zM525 162h1v1h-1zm0 2h1v1h-1zM542 162h1v1h-1zm0 2h1v1h-1zM559 162h1v1h-1zm0 2h1v1h-1zM576 162h1v1h-1zm0 2h1v1h-1zM593 162h1v1h-1zm0 2h1v1h-1zM610 162h1v1h-1zm0 2h1v1h-1zM627 162h1v1h-1zm0 2h1v1h-1zM645 162h1v1h-1zm0 2h1v1h-1zM662 162h1v1h-1zm0 2h1v1h-1zM679 162h1v1h-1zm0 2h1v1h-1zM696 162h1v1h-1zm0 2h1v1h-1zM405 190h1v1h-1zm0 2h1v1h-1zM422 190h1v1h-1zm0 2h1v1h-1zM439 190h1v1h-1zm0 2h1v1h-1zM456 190h1v1h-1zm0 2h1v1h-1zM473 190h1v1h-1zm0 2h1v1h-1zM491 190h1v1h-1zm0 2h1v1h-1zM508 190h1v1h-1zm0 2h1v1h-1zM525 190h1v1h-1zm0 2h1v1h-1zM542 190h1v1h-1zm0 2h1v1h-1zM559 190h1v1h-1zm0 2h1v1h-1zM576 190h1v1h-1zm0 2h1v1h-1zM593 190h1v1h-1zm0 2h1v1h-1zM610 190h1v1h-1zm0 2h1v1h-1zM627 190h1v1h-1zm0 2h1v1h-1zM644 190h1v1h-1zm0 2h1v1h-1zM662 190h1v1h-1zm0 2h1v1h-1zM679 190h1v1h-1zm0 2h1v1h-1zM696 190h1v1h-1zm0 2h1v1h-1zM713 190h1v1h-1zm0 2h1v1h-1zM414 218h1v1h-1zm0 2h1v1h-1zM431 218h1v1h-1zm0 2h1v1h-1zM448 218h1v1h-1zm0 2h1v1h-1zM465 218h1v1h-1zm0 2h1v1h-1zM482 218h1v1h-1zm0 2h1v1h-1zM499 218h1v1h-1zm0 2h1v1h-1zM516 218h1v1h-1zm0 2h1v1h-1zM533 218h1v1h-1zm0 2h1v1h-1zM550 218h1v1h-1zm0 2h1v1h-1zM568 218h1v1h-1zm0 2h1v1h-1zM585 218h1v1h-1zm0 2h1v1h-1zM602 218h1v1h-1zm0 2h1v1h-1zM619 218h1v1h-1zm0 2h1v1h-1zM636 218h1v1h-1zm0 2h1v1h-1zM653 218h1v1h-1zm0 2h1v1h-1zM670 218h1v1h-1zm0 2h1v1h-1zM687 218h1v1h-1zm0 2h1v1h-1zM704 218h1v1h-1zm0 2h1v1h-1zM421 246h1v1h-1zm0 2h1v1h-1zM438 246h1v1h-1zm0 2h1v1h-1zM455 246h1v1h-1zm0 2h1v1h-1zM472 246h1v1h-1zm0 2h1v1h-1zM489 246h1v1h-1zm0 2h1v1h-1zM507 246h1v1h-1zm0 2h1v1h-1zM524 246h1v1h-1zm0 2h1v1h-1zM541 246h1v1h-1zm0 2h1v1h-1zM558 246h1v1h-1zm0 2h1v1h-1zM575 246h1v1h-1zm0 2h1v1h-1zM592 246h1v1h-1zm0 2h1v1h-1zM609 246h1v1h-1zm0 2h1v1h-1zM626 246h1v1h-1zm0 2h1v1h-1zM644 246h1v1h-1zm0 2h1v1h-1zM661 246h1v1h-1zm0 2h1v1h-1zM678 246h1v1h-1zm0 2h1v1h-1zM695 246h1v1h-1zm0 2h1v1h-1zM429 274h1v1h-1zm0 2h1v1h-1zM446 274h1v1h-1zm0 2h1v1h-1zM463 274h1v1h-1zm0 2h1v1h-1zM480 274h1v1h-1zm0 2h1v1h-1zM498 274h1v1h-1zm0 2h1v1h-1zM515 274h1v1h-1zm0 2h1v1h-1zM532 274h1v1h-1zm0 2h1v1h-1zM549 274h1v1h-1zm0 2h1v1h-1zM566 274h1v1h-1zm0 2h1v1h-1zM583 274h1v1h-1zm0 2h1v1h-1zM600 274h1v1h-1zm0 2h1v1h-1zM617 274h1v1h-1zm0 2h1v1h-1zM634 274h1v1h-1zm0 2h1v1h-1zM652 274h1v1h-1zm0 2h1v1h-1zM669 274h1v1h-1zm0 2h1v1h-1zM686 274h1v1h-1zm0 2h1v1h-1zM429 302h1v1h-1zm0 2h1v1h-1zM446 302h1v1h-1zm0 2h1v1h-1zM463 302h1v1h-1zm0 2h1v1h-1zM480 302h1v1h-1zm0 2h1v1h-1zM497 302h1v1h-1zm0 2h1v1h-1zM514 302h1v1h-1zm0 2h1v1h-1zM531 302h1v1h-1zm0 2h1v1h-1zM548 302h1v1h-1zm0 2h1v1h-1zM566 302h1v1h-1zm0 2h1v1h-1zM583 302h1v1h-1zm0 2h1v1h-1zM600 302h1v1h-1zm0 2h1v1h-1zM617 302h1v1h-1zm0 2h1v1h-1zM634 302h1v1h-1zm0 2h1v1h-1zM651 302h1v1h-1zm0 2h1v1h-1zM668 302h1v1h-1zm0 2h1v1h-1zM685 302h1v1h-1zm0 2h1v1h-1zM429 330h1v1h-1zm0 2h1v1h-1zM446 330h1v1h-1zm0 2h1v1h-1zM463 330h1v1h-1zm0 2h1v1h-1zM480 330h1v1h-1zm0 2h1v1h-1zM497 330h1v1h-1zm0 2h1v1h-1zM514 330h1v1h-1zm0 2h1v1h-1zM531 330h1v1h-1zm0 2h1v1h-1zM548 330h1v1h-1zm0 2h1v1h-1zM566 330h1v1h-1zm0 2h1v1h-1zM583 330h1v1h-1zm0 2h1v1h-1zM600 330h1v1h-1zm0 2h1v1h-1zM617 330h1v1h-1zm0 2h1v1h-1zM634 330h1v1h-1zm0 2h1v1h-1zM651 330h1v1h-1zm0 2h1v1h-1zM668 330h1v1h-1zm0 2h1v1h-1zM685 330h1v1h-1zm0 2h1v1h-1zM428 358h1v1h-1zm0 2h1v1h-1zM445 358h1v1h-1zm0 2h1v1h-1zM462 358h1v1h-1zm0 2h1v1h-1zM479 358h1v1h-1zm0 2h1v1h-1zM496 358h1v1h-1zm0 2h1v1h-1zM513 358h1v1h-1zm0 2h1v1h-1zM530 358h1v1h-1zm0 2h1v1h-1zM547 358h1v1h-1zm0 2h1v1h-1zM564 358h1v1h-1zm0 2h1v1h-1zM582 358h1v1h-1zm0 2h1v1h-1zM599 358h1v1h-1zm0 2h1v1h-1zM616 358h1v1h-1zm0 2h1v1h-1zM633 358h1v1h-1zm0 2h1v1h-1zM650 358h1v1h-1zm0 2h1v1h-1zM667 358h1v1h-1zm0 2h1v1h-1zM684 358h1v1h-1zm0 2h1v1h-1zM435 386h1v1h-1zm0 2h1v1h-1zM452 386h1v1h-1zm0 2h1v1h-1zM469 386h1v1h-1zm0 2h1v1h-1zM486 386h1v1h-1zm0 2h1v1h-1zM503 386h1v1h-1zm0 2h1v1h-1zM520 386h1v1h-1zm0 2h1v1h-1zM537 386h1v1h-1zm0 2h1v1h-1zM554 386h1v1h-1zm0 2h1v1h-1zM572 386h1v1h-1zm0 2h1v1h-1zM589 386h1v1h-1zm0 2h1v1h-1zM606 386h1v1h-1zm0 2h1v1h-1zM623 386h1v1h-1zm0 2h1v1h-1zM640 386h1v1h-1zm0 2h1v1h-1zM657 386h1v1h-1zm0 2h1v1h-1zM674 386h1v1h-1zm0 2h1v1h-1zM442 414h1v1h-1zm0 2h1v1h-1zM459 414h1v1h-1zm0 2h1v1h-1zM476 414h1v1h-1zm0 2h1v1h-1zM493 414h1v1h-1zm0 2h1v1h-1zM510 414h1v1h-1zm0 2h1v1h-1zM527 414h1v1h-1zm0 2h1v1h-1zM544 414h1v1h-1zm0 2h1v1h-1zM562 414h1v1h-1zm0 2h1v1h-1zM579 414h1v1h-1zm0 2h1v1h-1zM596 414h1v1h-1zm0 2h1v1h-1zM613 414h1v1h-1zm0 2h1v1h-1zM630 414h1v1h-1zm0 2h1v1h-1zM647 414h1v1h-1zm0 2h1v1h-1zM664 414h1v1h-1zm0 2h1v1h-1zM459 442h1v1h-1zm0 2h1v1h-1zM476 442h1v1h-1zm0 2h1v1h-1zM493 442h1v1h-1zm0 2h1v1h-1zM510 442h1v1h-1zm0 2h1v1h-1zM528 442h1v1h-1zm0 2h1v1h-1zM545 442h1v1h-1zm0 2h1v1h-1zM562 442h1v1h-1zm0 2h1v1h-1zM579 442h1v1h-1zm0 2h1v1h-1zM596 442h1v1h-1zm0 2h1v1h-1zM614 442h1v1h-1zm0 2h1v1h-1zM631 442h1v1h-1zm0 2h1v1h-1zM648 442h1v1h-1zm0 2h1v1h-1zM502 470h1v1h-1zm0 2h1v1h-1zM519 470h1v1h-1zm0 2h1v1h-1zM536 470h1v1h-1zm0 2h1v1h-1zM553 470h1v1h-1zm0 2h1v1h-1zM571 470h1v1h-1zm0 2h1v1h-1zM588 470h1v1h-1zm0 2h1v1h-1zM605 470h1v1h-1zm0 2h1v1h-1zM502 498h1v1h-1zm0 2h1v1h-1zM519 498h1v1h-1zm0 2h1v1h-1zM536 498h1v1h-1zm0 2h1v1h-1zM553 498h1v1h-1zm0 2h1v1h-1zM571 498h1v1h-1zm0 2h1v1h-1zM588 498h1v1h-1zm0 2h1v1h-1zM605 498h1v1h-1zm0 2h1v1h-1zM250 267h1v1h-1zm0 2h1v1h-1zM267 267h1v1h-1zm0 2h1v1h-1zM284 267h1v1h-1zm0 2h1v1h-1zM302 267h1v1h-1zm0 2h1v1h-1zM206 295h1v1h-1zm0 2h1v1h-1zM223 295h1v1h-1zm0 2h1v1h-1zM240 295h1v1h-1zm0 2h1v1h-1zM257 295h1v1h-1zm0 2h1v1h-1zM275 295h1v1h-1zm0 2h1v1h-1zM292 295h1v1h-1zm0 2h1v1h-1zM309 295h1v1h-1zm0 2h1v1h-1zM232 323h1v1h-1zm0 2h1v1h-1zM249 323h1v1h-1zm0 2h1v1h-1zM266 323h1v1h-1zm0 2h1v1h-1zM283 323h1v1h-1zm0 2h1v1h-1zM300 323h1v1h-1zm0 2h1v1h-1zM317 323h1v1h-1zm0 2h1v1h-1zM222 351h1v1h-1zm0 2h1v1h-1zM239 351h1v1h-1zm0 2h1v1h-1zM256 351h1v1h-1zm0 2h1v1h-1zM273 351h1v1h-1zm0 2h1v1h-1zM291 351h1v1h-1zm0 2h1v1h-1zM308 351h1v1h-1zm0 2h1v1h-1zM325 351h1v1h-1zm0 2h1v1h-1zM213 379h1v1h-1zm0 2h1v1h-1zM230 379h1v1h-1zm0 2h1v1h-1zM247 379h1v1h-1zm0 2h1v1h-1zM264 379h1v1h-1zm0 2h1v1h-1zM282 379h1v1h-1zm0 2h1v1h-1zM299 379h1v1h-1zm0 2h1v1h-1zM316 379h1v1h-1zm0 2h1v1h-1zM203 407h1v1h-1zm0 2h1v1h-1zM220 407h1v1h-1zm0 2h1v1h-1zM237 407h1v1h-1zm0 2h1v1h-1zM254 407h1v1h-1zm0 2h1v1h-1zM272 407h1v1h-1zm0 2h1v1h-1zM289 407h1v1h-1zm0 2h1v1h-1zM306 407h1v1h-1zm0 2h1v1h-1zM323 407h1v1h-1zm0 2h1v1h-1zM228 435h1v1h-1zm0 2h1v1h-1zM245 435h1v1h-1zm0 2h1v1h-1zM262 435h1v1h-1zm0 2h1v1h-1zM279 435h1v1h-1zm0 2h1v1h-1zM296 435h1v1h-1zm0 2h1v1h-1zM313 435h1v1h-1zm0 2h1v1h-1zM330 435h1v1h-1zm0 2h1v1h-1zM219 463h1v1h-1zm0 2h1v1h-1zM236 463h1v1h-1zm0 2h1v1h-1zM253 463h1v1h-1zm0 2h1v1h-1zM270 463h1v1h-1zm0 2h1v1h-1zM288 463h1v1h-1zm0 2h1v1h-1zM305 463h1v1h-1zm0 2h1v1h-1zM322 463h1v1h-1zm0 2h1v1h-1zM339 463h1v1h-1zm0 2h1v1h-1zM228 491h1v1h-1zm0 2h1v1h-1zM245 491h1v1h-1zm0 2h1v1h-1zM262 491h1v1h-1zm0 2h1v1h-1zM278 491h1v1h-1zm0 2h1v1h-1zM295 491h1v1h-1zm0 2h1v1h-1zM312 491h1v1h-1zm0 2h1v1h-1zM219 519h1v1h-1zm0 2h1v1h-1zM236 519h1v1h-1zm0 2h1v1h-1zM253 519h1v1h-1zm0 2h1v1h-1zM271 519h1v1h-1zm0 2h1v1h-1zM288 519h1v1h-1zm0 2h1v1h-1zM227 547h1v1h-1zm0 2h1v1h-1zM244 547h1v1h-1zm0 2h1v1h-1zM261 547h1v1h-1zm0 2h1v1h-1zM811 267h1v1h-1zm0 2h1v1h-1zM828 267h1v1h-1zm0 2h1v1h-1zM845 267h1v1h-1zm0 2h1v1h-1zM862 267h1v1h-1zm0 2h1v1h-1zM802 295h1v1h-1zm0 2h1v1h-1zM819 295h1v1h-1zm0 2h1v1h-1zM836 295h1v1h-1zm0 2h1v1h-1zM853 295h1v1h-1zm0 2h1v1h-1zM871 295h1v1h-1zm0 2h1v1h-1zM888 295h1v1h-1zm0 2h1v1h-1zM905 295h1v1h-1zm0 2h1v1h-1zM794 323h1v1h-1zm0 2h1v1h-1zM811 323h1v1h-1zm0 2h1v1h-1zM828 323h1v1h-1zm0 2h1v1h-1zM845 323h1v1h-1zm0 2h1v1h-1zM862 323h1v1h-1zm0 2h1v1h-1zM879 323h1v1h-1zm0 2h1v1h-1zM786 351h1v1h-1zm0 2h1v1h-1zM803 351h1v1h-1zm0 2h1v1h-1zM820 351h1v1h-1zm0 2h1v1h-1zM837 351h1v1h-1zm0 2h1v1h-1zM854 351h1v1h-1zm0 2h1v1h-1zM871 351h1v1h-1zm0 2h1v1h-1zM888 351h1v1h-1zm0 2h1v1h-1zM795 379h1v1h-1zm0 2h1v1h-1zM812 379h1v1h-1zm0 2h1v1h-1zM829 379h1v1h-1zm0 2h1v1h-1zM846 379h1v1h-1zm0 2h1v1h-1zM864 379h1v1h-1zm0 2h1v1h-1zM881 379h1v1h-1zm0 2h1v1h-1zM898 379h1v1h-1zm0 2h1v1h-1zM786 407h1v1h-1zm0 2h1v1h-1zM803 407h1v1h-1zm0 2h1v1h-1zM820 407h1v1h-1zm0 2h1v1h-1zM837 407h1v1h-1zm0 2h1v1h-1zM854 407h1v1h-1zm0 2h1v1h-1zM872 407h1v1h-1zm0 2h1v1h-1zM889 407h1v1h-1zm0 2h1v1h-1zM906 407h1v1h-1zm0 2h1v1h-1zM777 435h1v1h-1zm0 2h1v1h-1zM794 435h1v1h-1zm0 2h1v1h-1zM811 435h1v1h-1zm0 2h1v1h-1zM828 435h1v1h-1zm0 2h1v1h-1zM845 435h1v1h-1zm0 2h1v1h-1zM862 435h1v1h-1zm0 2h1v1h-1zM879 435h1v1h-1zm0 2h1v1h-1zM768 463h1v1h-1zm0 2h1v1h-1zM785 463h1v1h-1zm0 2h1v1h-1zM802 463h1v1h-1zm0 2h1v1h-1zM819 463h1v1h-1zm0 2h1v1h-1zM836 463h1v1h-1zm0 2h1v1h-1zM854 463h1v1h-1zm0 2h1v1h-1zM871 463h1v1h-1zm0 2h1v1h-1zM888 463h1v1h-1zm0 2h1v1h-1zM793 491h1v1h-1zm0 2h1v1h-1zM810 491h1v1h-1zm0 2h1v1h-1zM827 491h1v1h-1zm0 2h1v1h-1zM844 491h1v1h-1zm0 2h1v1h-1zM862 491h1v1h-1zm0 2h1v1h-1zM879 491h1v1h-1zm0 2h1v1h-1zM820 519h1v1h-1zm0 2h1v1h-1zM837 519h1v1h-1zm0 2h1v1h-1zM854 519h1v1h-1zm0 2h1v1h-1zM871 519h1v1h-1zm0 2h1v1h-1zM888 519h1v1h-1zm0 2h1v1h-1zM844 547h1v1h-1zm0 2h1v1h-1zM861 547h1v1h-1zm0 2h1v1h-1zM879 547h1v1h-1zm0 2h1v1h-1zM451 547h1v1h-1zm0 2h1v1h-1zM468 547h1v1h-1zm0 2h1v1h-1zM485 547h1v1h-1zm0 2h1v1h-1zM502 547h1v1h-1zm0 2h1v1h-1zM604 547h1v1h-1zm0 2h1v1h-1zM621 547h1v1h-1zm0 2h1v1h-1zM638 547h1v1h-1zm0 2h1v1h-1zM655 547h1v1h-1zm0 2h1v1h-1zM425 575h1v1h-1zm0 2h1v1h-1zM442 575h1v1h-1zm0 2h1v1h-1zM459 575h1v1h-1zm0 2h1v1h-1zM476 575h1v1h-1zm0 2h1v1h-1zM493 575h1v1h-1zm0 2h1v1h-1zM510 575h1v1h-1zm0 2h1v1h-1zM527 575h1v1h-1zm0 2h1v1h-1zM544 575h1v1h-1zm0 2h1v1h-1zM562 575h1v1h-1zm0 2h1v1h-1zM579 575h1v1h-1zm0 2h1v1h-1zM596 575h1v1h-1zm0 2h1v1h-1zM613 575h1v1h-1zm0 2h1v1h-1zM630 575h1v1h-1zm0 2h1v1h-1zM647 575h1v1h-1zm0 2h1v1h-1zM664 575h1v1h-1zm0 2h1v1h-1zM681 575h1v1h-1zm0 2h1v1h-1zM416 603h1v1h-1zm0 2h1v1h-1zM433 603h1v1h-1zm0 2h1v1h-1zM450 603h1v1h-1zm0 2h1v1h-1zM467 603h1v1h-1zm0 2h1v1h-1zM484 603h1v1h-1zm0 2h1v1h-1zM501 603h1v1h-1zm0 2h1v1h-1zM518 603h1v1h-1zm0 2h1v1h-1zM535 603h1v1h-1zm0 2h1v1h-1zM552 603h1v1h-1zm0 2h1v1h-1zM570 603h1v1h-1zm0 2h1v1h-1zM587 603h1v1h-1zm0 2h1v1h-1zM604 603h1v1h-1zm0 2h1v1h-1zM621 603h1v1h-1zm0 2h1v1h-1zM638 603h1v1h-1zm0 2h1v1h-1zM655 603h1v1h-1zm0 2h1v1h-1zM672 603h1v1h-1zm0 2h1v1h-1zM689 603h1v1h-1zm0 2h1v1h-1zM425 631h1v1h-1zm0 2h1v1h-1zM442 631h1v1h-1zm0 2h1v1h-1zM459 631h1v1h-1zm0 2h1v1h-1zM476 631h1v1h-1zm0 2h1v1h-1zM494 631h1v1h-1zm0 2h1v1h-1zM511 631h1v1h-1zm0 2h1v1h-1zM528 631h1v1h-1zm0 2h1v1h-1zM545 631h1v1h-1zm0 2h1v1h-1zM562 631h1v1h-1zm0 2h1v1h-1zM579 631h1v1h-1zm0 2h1v1h-1zM596 631h1v1h-1zm0 2h1v1h-1zM613 631h1v1h-1zm0 2h1v1h-1zM630 631h1v1h-1zm0 2h1v1h-1zM648 631h1v1h-1zm0 2h1v1h-1zM665 631h1v1h-1zm0 2h1v1h-1zM682 631h1v1h-1zm0 2h1v1h-1zM416 659h1v1h-1zm0 2h1v1h-1zM433 659h1v1h-1zm0 2h1v1h-1zM450 659h1v1h-1zm0 2h1v1h-1zM467 659h1v1h-1zm0 2h1v1h-1zM484 659h1v1h-1zm0 2h1v1h-1zM501 659h1v1h-1zm0 2h1v1h-1zM518 659h1v1h-1zm0 2h1v1h-1zM535 659h1v1h-1zm0 2h1v1h-1zM552 659h1v1h-1zm0 2h1v1h-1zM570 659h1v1h-1zm0 2h1v1h-1zM587 659h1v1h-1zm0 2h1v1h-1zM604 659h1v1h-1zm0 2h1v1h-1zM621 659h1v1h-1zm0 2h1v1h-1zM638 659h1v1h-1zm0 2h1v1h-1zM655 659h1v1h-1zm0 2h1v1h-1zM672 659h1v1h-1zm0 2h1v1h-1zM689 659h1v1h-1zm0 2h1v1h-1zM415 715h1v1h-1zm0 2h1v1h-1zM432 715h1v1h-1zm0 2h1v1h-1zM449 715h1v1h-1zm0 2h1v1h-1zM466 715h1v1h-1zm0 2h1v1h-1zM483 715h1v1h-1zm0 2h1v1h-1zM501 715h1v1h-1zm0 2h1v1h-1zM518 715h1v1h-1zm0 2h1v1h-1zM535 715h1v1h-1zm0 2h1v1h-1zM552 715h1v1h-1zm0 2h1v1h-1zM569 715h1v1h-1zm0 2h1v1h-1zM586 715h1v1h-1zm0 2h1v1h-1zM603 715h1v1h-1zm0 2h1v1h-1zM620 715h1v1h-1zm0 2h1v1h-1zM638 715h1v1h-1zm0 2h1v1h-1zM655 715h1v1h-1zm0 2h1v1h-1zM672 715h1v1h-1zm0 2h1v1h-1zM689 715h1v1h-1zm0 2h1v1h-1zM399 743h1v1h-1zm0 2h1v1h-1zM416 743h1v1h-1zm0 2h1v1h-1zM433 743h1v1h-1zm0 2h1v1h-1zM450 743h1v1h-1zm0 2h1v1h-1zM467 743h1v1h-1zm0 2h1v1h-1zM484 743h1v1h-1zm0 2h1v1h-1zM501 743h1v1h-1zm0 2h1v1h-1zM518 743h1v1h-1zm0 2h1v1h-1zM535 743h1v1h-1zm0 2h1v1h-1zM552 743h1v1h-1zm0 2h1v1h-1zM570 743h1v1h-1zm0 2h1v1h-1zM587 743h1v1h-1zm0 2h1v1h-1zM604 743h1v1h-1zm0 2h1v1h-1zM621 743h1v1h-1zm0 2h1v1h-1zM638 743h1v1h-1zm0 2h1v1h-1zM655 743h1v1h-1zm0 2h1v1h-1zM672 743h1v1h-1zm0 2h1v1h-1zM689 743h1v1h-1zm0 2h1v1h-1zM706 743h1v1h-1zm0 2h1v1h-1zM382 771h1v1h-1zm0 2h1v1h-1zM399 771h1v1h-1zm0 2h1v1h-1zM416 771h1v1h-1zm0 2h1v1h-1zM433 771h1v1h-1zm0 2h1v1h-1zM450 771h1v1h-1zm0 2h1v1h-1zM467 771h1v1h-1zm0 2h1v1h-1zM485 771h1v1h-1zm0 2h1v1h-1zM502 771h1v1h-1zm0 2h1v1h-1zM519 771h1v1h-1zm0 2h1v1h-1zM536 771h1v1h-1zm0 2h1v1h-1zM553 771h1v1h-1zm0 2h1v1h-1zM570 771h1v1h-1zm0 2h1v1h-1zM587 771h1v1h-1zm0 2h1v1h-1zM604 771h1v1h-1zm0 2h1v1h-1zM621 771h1v1h-1zm0 2h1v1h-1zM638 771h1v1h-1zm0 2h1v1h-1zM656 771h1v1h-1zm0 2h1v1h-1zM673 771h1v1h-1zm0 2h1v1h-1zM690 771h1v1h-1zm0 2h1v1h-1zM707 771h1v1h-1zm0 2h1v1h-1zM724 771h1v1h-1zm0 2h1v1h-1zM382 799h1v1h-1zm0 2h1v1h-1zM399 799h1v1h-1zm0 2h1v1h-1zM416 799h1v1h-1zm0 2h1v1h-1zM433 799h1v1h-1zm0 2h1v1h-1zM450 799h1v1h-1zm0 2h1v1h-1zM467 799h1v1h-1zm0 2h1v1h-1zM485 799h1v1h-1zm0 2h1v1h-1zM502 799h1v1h-1zm0 2h1v1h-1zM519 799h1v1h-1zm0 2h1v1h-1zM536 799h1v1h-1zm0 2h1v1h-1zM553 799h1v1h-1zm0 2h1v1h-1zM570 799h1v1h-1zm0 2h1v1h-1zM587 799h1v1h-1zm0 2h1v1h-1zM604 799h1v1h-1zm0 2h1v1h-1zM621 799h1v1h-1zm0 2h1v1h-1zM638 799h1v1h-1zm0 2h1v1h-1zM656 799h1v1h-1zm0 2h1v1h-1zM673 799h1v1h-1zm0 2h1v1h-1zM690 799h1v1h-1zm0 2h1v1h-1zM707 799h1v1h-1zm0 2h1v1h-1zM724 799h1v1h-1zm0 2h1v1h-1zM409 827h1v1h-1zm0 2h1v1h-1zM426 827h1v1h-1zm0 2h1v1h-1zM443 827h1v1h-1zm0 2h1v1h-1zM460 827h1v1h-1zm0 2h1v1h-1zM477 827h1v1h-1zm0 2h1v1h-1zM495 827h1v1h-1zm0 2h1v1h-1zM512 827h1v1h-1zm0 2h1v1h-1zM529 827h1v1h-1zm0 2h1v1h-1zM546 827h1v1h-1zm0 2h1v1h-1zM563 827h1v1h-1zm0 2h1v1h-1zM580 827h1v1h-1zm0 2h1v1h-1zM597 827h1v1h-1zm0 2h1v1h-1zM614 827h1v1h-1zm0 2h1v1h-1zM631 827h1v1h-1zm0 2h1v1h-1zM649 827h1v1h-1zm0 2h1v1h-1zM666 827h1v1h-1zm0 2h1v1h-1zM683 827h1v1h-1zm0 2h1v1h-1zM700 827h1v1h-1zm0 2h1v1h-1zM388 874h1v1h-1zm0 2h1v1h-1zM405 874h1v1h-1zm0 2h1v1h-1zM422 874h1v1h-1zm0 2h1v1h-1zM439 874h1v1h-1zm0 2h1v1h-1zM456 874h1v1h-1zm0 2h1v1h-1zM473 874h1v1h-1zm0 2h1v1h-1zM490 874h1v1h-1zm0 2h1v1h-1zM507 874h1v1h-1zm0 2h1v1h-1zM597 874h1v1h-1zm0 2h1v1h-1zM614 874h1v1h-1zm0 2h1v1h-1zM631 874h1v1h-1zm0 2h1v1h-1zM648 874h1v1h-1zm0 2h1v1h-1zM665 874h1v1h-1zm0 2h1v1h-1zM682 874h1v1h-1zm0 2h1v1h-1zM699 874h1v1h-1zm0 2h1v1h-1zM716 874h1v1h-1zm0 2h1v1h-1zM733 874h1v1h-1zm0 2h1v1h-1zM388 902h1v1h-1zm0 2h1v1h-1zM405 902h1v1h-1zm0 2h1v1h-1zM422 902h1v1h-1zm0 2h1v1h-1zM439 902h1v1h-1zm0 2h1v1h-1zM456 902h1v1h-1zm0 2h1v1h-1zM473 902h1v1h-1zm0 2h1v1h-1zM490 902h1v1h-1zm0 2h1v1h-1zM507 902h1v1h-1zm0 2h1v1h-1zM597 902h1v1h-1zm0 2h1v1h-1zM614 902h1v1h-1zm0 2h1v1h-1zM631 902h1v1h-1zm0 2h1v1h-1zM648 902h1v1h-1zm0 2h1v1h-1zM665 902h1v1h-1zm0 2h1v1h-1zM682 902h1v1h-1zm0 2h1v1h-1zM699 902h1v1h-1zm0 2h1v1h-1zM716 902h1v1h-1zm0 2h1v1h-1zM733 902h1v1h-1zm0 2h1v1h-1zM388 930h1v1h-1zm0 2h1v1h-1zM405 930h1v1h-1zm0 2h1v1h-1zM422 930h1v1h-1zm0 2h1v1h-1zM439 930h1v1h-1zm0 2h1v1h-1zM456 930h1v1h-1zm0 2h1v1h-1zM473 930h1v1h-1zm0 2h1v1h-1zM490 930h1v1h-1zm0 2h1v1h-1zM507 930h1v1h-1zm0 2h1v1h-1zM597 930h1v1h-1zm0 2h1v1h-1zM614 930h1v1h-1zm0 2h1v1h-1zM631 930h1v1h-1zm0 2h1v1h-1zM648 930h1v1h-1zm0 2h1v1h-1zM665 930h1v1h-1zm0 2h1v1h-1zM682 930h1v1h-1zm0 2h1v1h-1zM699 930h1v1h-1zm0 2h1v1h-1zM716 930h1v1h-1zm0 2h1v1h-1zM733 930h1v1h-1zm0 2h1v1h-1zM388 958h1v1h-1zm0 2h1v1h-1zM405 958h1v1h-1zm0 2h1v1h-1zM422 958h1v1h-1zm0 2h1v1h-1zM439 958h1v1h-1zm0 2h1v1h-1zM456 958h1v1h-1zm0 2h1v1h-1zM473 958h1v1h-1zm0 2h1v1h-1zM490 958h1v1h-1zm0 2h1v1h-1zM507 958h1v1h-1zm0 2h1v1h-1zM597 958h1v1h-1zm0 2h1v1h-1zM614 958h1v1h-1zm0 2h1v1h-1zM631 958h1v1h-1zm0 2h1v1h-1zM648 958h1v1h-1zm0 2h1v1h-1zM665 958h1v1h-1zm0 2h1v1h-1zM682 958h1v1h-1zm0 2h1v1h-1zM699 958h1v1h-1zm0 2h1v1h-1zM716 958h1v1h-1zm0 2h1v1h-1zM733 958h1v1h-1zm0 2h1v1h-1zM388 986h1v1h-1zm0 2h1v1h-1zM405 986h1v1h-1zm0 2h1v1h-1zM422 986h1v1h-1zm0 2h1v1h-1zM439 986h1v1h-1zm0 2h1v1h-1zM456 986h1v1h-1zm0 2h1v1h-1zM473 986h1v1h-1zm0 2h1v1h-1zM490 986h1v1h-1zm0 2h1v1h-1zM507 986h1v1h-1zm0 2h1v1h-1zM597 986h1v1h-1zm0 2h1v1h-1zM614 986h1v1h-1zm0 2h1v1h-1zM631 986h1v1h-1zm0 2h1v1h-1zM648 986h1v1h-1zm0 2h1v1h-1zM665 986h1v1h-1zm0 2h1v1h-1zM682 986h1v1h-1zm0 2h1v1h-1zM699 986h1v1h-1zm0 2h1v1h-1zM716 986h1v1h-1zm0 2h1v1h-1zM733 986h1v1h-1zm0 2h1v1h-1zM388 1014h1v1h-1zm0 2h1v1h-1zM405 1014h1v1h-1zm0 2h1v1h-1zM422 1014h1v1h-1zm0 2h1v1h-1zM439 1014h1v1h-1zm0 2h1v1h-1zM456 1014h1v1h-1zm0 2h1v1h-1zM473 1014h1v1h-1zm0 2h1v1h-1zM490 1014h1v1h-1zm0 2h1v1h-1zM507 1014h1v1h-1zm0 2h1v1h-1zM597 1014h1v1h-1zm0 2h1v1h-1zM614 1014h1v1h-1zm0 2h1v1h-1zM631 1014h1v1h-1zm0 2h1v1h-1zM648 1014h1v1h-1zm0 2h1v1h-1zM665 1014h1v1h-1zm0 2h1v1h-1zM682 1014h1v1h-1zm0 2h1v1h-1zM699 1014h1v1h-1zm0 2h1v1h-1zM716 1014h1v1h-1zm0 2h1v1h-1zM733 1014h1v1h-1zm0 2h1v1h-1zM400 1042h1v1h-1zm0 2h1v1h-1zM417 1042h1v1h-1zm0 2h1v1h-1zM434 1042h1v1h-1zm0 2h1v1h-1zM451 1042h1v1h-1zm0 2h1v1h-1zM468 1042h1v1h-1zm0 2h1v1h-1zM485 1042h1v1h-1zm0 2h1v1h-1zM502 1042h1v1h-1zm0 2h1v1h-1zM519 1042h1v1h-1zm0 2h1v1h-1zM536 1042h1v1h-1zm0 2h1v1h-1zM553 1042h1v1h-1zm0 2h1v1h-1zM570 1042h1v1h-1zm0 2h1v1h-1zM588 1042h1v1h-1zm0 2h1v1h-1zM605 1042h1v1h-1zm0 2h1v1h-1zM622 1042h1v1h-1zm0 2h1v1h-1zM639 1042h1v1h-1zm0 2h1v1h-1zM656 1042h1v1h-1zm0 2h1v1h-1zM673 1042h1v1h-1zm0 2h1v1h-1zM690 1042h1v1h-1zm0 2h1v1h-1zM707 1042h1v1h-1zm0 2h1v1h-1zM724 1042h1v1h-1zm0 2h1v1h-1z"/></svg><u style="left:507.56px;top:0.10px;font-size:31px;-webkit-text-stroke:0.4px #000;transform:scaleX(1.068)">Bühne</u><u style="left:529.57px;top:42.50px;font-size:19.5px;font-weight:bold;transform:scaleX(0.935)">Arena</u><u style="left:227.77px;top:221.90px;font-size:19.5px;font-weight:bold;transform:scaleX(0.935)">Loge Links</u><u style="left:789.96px;top:221.90px;font-size:19.5px;font-weight:bold;transform:scaleX(0.942)">Loge Rechts</u><u style="left:20.15px;top:385.80px;font-size:19.5px;font-weight:bold;transform:scaleX(0.948)">Galerie Links</u><u style="left:968.94px;top:385.10px;font-size:19.5px;font-weight:bold;transform:scaleX(0.957)">Galerie Rechts</u><u style="left:499.93px;top:513.20px;font-size:19.5px;font-weight:bold;transform:scaleX(0.970)">Loge Mitte</u><u style="left:496.12px;top:679.10px;font-size:19.5px;font-weight:bold;transform:scaleX(0.984)">Galerie Mitte</u><i style="left:440.0px;top:72.0px"><s>1</s></i><i style="left:457.0px;top:72.0px">2</i><i style="left:474.0px;top:72.0px">3</i><i style="left:491.0px;top:72.0px">4</i><i style="left:508.0px;top:72.0px">5</i><i style="left:525.0px;top:72.0px">6</i><i style="left:542.0px;top:72.0px">7</i><i style="left:560.0px;top:72.0px">8</i><i style="left:577.0px;top:72.0px">9</i><i style="left:594.0px;top:72.0px"><s>1</s>0</i><i style="left:611.0px;top:72.0px"><s>1</s><s>1</s></i><i style="left:628.0px;top:72.0px"><s>1</s>2</i><i style="left:645.0px;top:72.0px"><s>1</s>3</i><i style="left:662.0px;top:72.0px"><s>1</s>4</i><b style="left:411.6px;top:68.0px">1</b><b style="left:689.7px;top:68.0px">1</b><i style="left:397.0px;top:100.0px"><s>1</s></i><i style="left:414.0px;top:100.0px">2</i><i style="left:431.0px;top:100.0px">3</i><i style="left:448.0px;top:100.0px">4</i><i style="left:465.0px;top:100.0px">5</i><i style="left:482.0px;top:100.0px">6</i><i style="left:499.0px;top:100.0px">7</i><i style="left:516.0px;top:100.0px">8</i><i style="left:533.0px;top:100.0px">9</i><i style="left:551.0px;top:100.0px"><s>1</s>0</i><i style="left:568.0px;top:100.0px"><s>1</s><s>1</s></i><i style="left:585.0px;top:100.0px"><s>1</s>2</i><i style="left:602.0px;top:100.0px"><s>1</s>3</i><i style="left:619.0px;top:100.0px"><s>1</s>4</i><i style="left:636.0px;top:100.0px"><s>1</s>5</i><i style="left:653.0px;top:100.0px"><s>1</s>6</i><i style="left:670.0px;top:100.0px"><s>1</s>7</i><i style="left:687.0px;top:100.0px"><s>1</s>8</i><i style="left:704.0px;top:100.0px"><s>1</s>9</i><b style="left:368.6px;top:96.0px">2</b><b style="left:731.7px;top:96.0px">2</b><i style="left:405.0px;top:128.0px"><s>1</s></i><i style="left:422.0px;top:128.0px">2</i><i style="left:439.0px;top:128.0px">3</i><i style="left:456.0px;top:128.0px">4</i><i style="left:473.0px;top:128.0px">5</i><i style="left:491.0px;top:128.0px">6</i><i style="left:508.0px;top:128.0px">7</i><i style="left:525.0px;top:128.0px">8</i><i style="left:542.0px;top:128.0px">9</i><i style="left:559.0px;top:128.0px"><s>1</s>0</i><i style="left:576.0px;top:128.0px"><s>1</s><s>1</s></i><i style="left:593.0px;top:128.0px"><s>1</s>2</i><i style="left:610.0px;top:128.0px"><s>1</s>3</i><i style="left:628.0px;top:128.0px"><s>1</s>4</i><i style="left:645.0px;top:128.0px"><s>1</s>5</i><i style="left:662.0px;top:128.0px"><s>1</s>6</i><i style="left:679.0px;top:128.0px"><s>1</s>7</i><i style="left:696.0px;top:128.0px"><s>1</s>8</i><b style="left:376.6px;top:124.0px">3</b><b style="left:723.7px;top:124.0px">3</b><i style="left:405.0px;top:156.0px"><s>1</s></i><i style="left:422.0px;top:156.0px">2</i><i style="left:439.0px;top:156.0px">3</i><i style="left:456.0px;top:156.0px">4</i><i style="left:473.0px;top:156.0px">5</i><i style="left:491.0px;top:156.0px">6</i><i style="left:508.0px;top:156.0px">7</i><i style="left:525.0px;top:156.0px">8</i><i style="left:542.0px;top:156.0px">9</i><i style="left:559.0px;top:156.0px"><s>1</s>0</i><i style="left:576.0px;top:156.0px"><s>1</s><s>1</s></i><i style="left:593.0px;top:156.0px"><s>1</s>2</i><i style="left:610.0px;top:156.0px"><s>1</s>3</i><i style="left:628.0px;top:156.0px"><s>1</s>4</i><i style="left:645.0px;top:156.0px"><s>1</s>5</i><i style="left:662.0px;top:156.0px"><s>1</s>6</i><i style="left:679.0px;top:156.0px"><s>1</s>7</i><i style="left:696.0px;top:156.0px"><s>1</s>8</i><b style="left:376.6px;top:152.0px">4</b><b style="left:723.7px;top:152.0px">4</b><i style="left:388.0px;top:184.0px"><s>1</s></i><i style="left:405.0px;top:184.0px">2</i><i style="left:422.0px;top:184.0px">3</i><i style="left:439.0px;top:184.0px">4</i><i style="left:456.0px;top:184.0px">5</i><i style="left:474.0px;top:184.0px">6</i><i style="left:491.0px;top:184.0px">7</i><i style="left:508.0px;top:184.0px">8</i><i style="left:525.0px;top:184.0px">9</i><i style="left:542.0px;top:184.0px"><s>1</s>0</i><i style="left:559.0px;top:184.0px"><s>1</s><s>1</s></i><i style="left:576.0px;top:184.0px"><s>1</s>2</i><i style="left:593.0px;top:184.0px"><s>1</s>3</i><i style="left:610.0px;top:184.0px"><s>1</s>4</i><i style="left:627.0px;top:184.0px"><s>1</s>5</i><i style="left:645.0px;top:184.0px"><s>1</s>6</i><i style="left:662.0px;top:184.0px"><s>1</s>7</i><i style="left:679.0px;top:184.0px"><s>1</s>8</i><i style="left:696.0px;top:184.0px"><s>1</s>9</i><i style="left:713.0px;top:184.0px">20</i><b style="left:359.6px;top:180.0px">5</b><b style="left:740.7px;top:180.0px">5</b><i style="left:397.0px;top:212.0px"><s>1</s></i><i style="left:414.0px;top:212.0px">2</i><i style="left:431.0px;top:212.0px">3</i><i style="left:448.0px;top:212.0px">4</i><i style="left:465.0px;top:212.0px">5</i><i style="left:482.0px;top:212.0px">6</i><i style="left:499.0px;top:212.0px">7</i><i style="left:516.0px;top:212.0px">8</i><i style="left:533.0px;top:212.0px">9</i><i style="left:551.0px;top:212.0px"><s>1</s>0</i><i style="left:568.0px;top:212.0px"><s>1</s><s>1</s></i><i style="left:585.0px;top:212.0px"><s>1</s>2</i><i style="left:602.0px;top:212.0px"><s>1</s>3</i><i style="left:619.0px;top:212.0px"><s>1</s>4</i><i style="left:636.0px;top:212.0px"><s>1</s>5</i><i style="left:653.0px;top:212.0px"><s>1</s>6</i><i style="left:670.0px;top:212.0px"><s>1</s>7</i><i style="left:687.0px;top:212.0px"><s>1</s>8</i><i style="left:704.0px;top:212.0px"><s>1</s>9</i><b style="left:368.6px;top:208.0px">6</b><b style="left:731.7px;top:208.0px">6</b><i style="left:404.0px;top:240.0px"><s>1</s></i><i style="left:421.0px;top:240.0px">2</i><i style="left:438.0px;top:240.0px">3</i><i style="left:455.0px;top:240.0px">4</i><i style="left:472.0px;top:240.0px">5</i><i style="left:490.0px;top:240.0px">6</i><i style="left:507.0px;top:240.0px">7</i><i style="left:524.0px;top:240.0px">8</i><i style="left:541.0px;top:240.0px">9</i><i style="left:558.0px;top:240.0px"><s>1</s>0</i><i style="left:575.0px;top:240.0px"><s>1</s><s>1</s></i><i style="left:592.0px;top:240.0px"><s>1</s>2</i><i style="left:609.0px;top:240.0px"><s>1</s>3</i><i style="left:627.0px;top:240.0px"><s>1</s>4</i><i style="left:644.0px;top:240.0px"><s>1</s>5</i><i style="left:661.0px;top:240.0px"><s>1</s>6</i><i style="left:678.0px;top:240.0px"><s>1</s>7</i><i style="left:695.0px;top:240.0px"><s>1</s>8</i><b style="left:375.6px;top:236.0px">7</b><b style="left:722.7px;top:236.0px">7</b><i style="left:412.0px;top:268.0px"><s>1</s></i><i style="left:429.0px;top:268.0px">2</i><i style="left:446.0px;top:268.0px">3</i><i style="left:463.0px;top:268.0px">4</i><i style="left:481.0px;top:268.0px">5</i><i style="left:498.0px;top:268.0px">6</i><i style="left:515.0px;top:268.0px">7</i><i style="left:532.0px;top:268.0px">8</i><i style="left:549.0px;top:268.0px">9</i><i style="left:566.0px;top:268.0px"><s>1</s>0</i><i style="left:583.0px;top:268.0px"><s>1</s><s>1</s></i><i style="left:600.0px;top:268.0px"><s>1</s>2</i><i style="left:617.0px;top:268.0px"><s>1</s>3</i><i style="left:635.0px;top:268.0px"><s>1</s>4</i><i style="left:652.0px;top:268.0px"><s>1</s>5</i><i style="left:669.0px;top:268.0px"><s>1</s>6</i><i style="left:686.0px;top:268.0px"><s>1</s>7</i><b style="left:383.6px;top:264.0px">8</b><b style="left:713.7px;top:264.0px">8</b><i style="left:412.0px;top:296.0px"><s>1</s></i><i style="left:429.0px;top:296.0px">2</i><i style="left:446.0px;top:296.0px">3</i><i style="left:463.0px;top:296.0px">4</i><i style="left:480.0px;top:296.0px">5</i><i style="left:497.0px;top:296.0px">6</i><i style="left:514.0px;top:296.0px">7</i><i style="left:531.0px;top:296.0px">8</i><i style="left:549.0px;top:296.0px">9</i><i style="left:566.0px;top:296.0px"><s>1</s>0</i><i style="left:583.0px;top:296.0px"><s>1</s><s>1</s></i><i style="left:600.0px;top:296.0px"><s>1</s>2</i><i style="left:617.0px;top:296.0px"><s>1</s>3</i><i style="left:634.0px;top:296.0px"><s>1</s>4</i><i style="left:651.0px;top:296.0px"><s>1</s>5</i><i style="left:668.0px;top:296.0px"><s>1</s>6</i><i style="left:685.0px;top:296.0px"><s>1</s>7</i><b style="left:383.6px;top:292.0px">9</b><b style="left:712.7px;top:292.0px">9</b><i style="left:412.0px;top:324.0px"><s>1</s></i><i style="left:429.0px;top:324.0px">2</i><i style="left:446.0px;top:324.0px">3</i><i style="left:463.0px;top:324.0px">4</i><i style="left:480.0px;top:324.0px">5</i><i style="left:497.0px;top:324.0px">6</i><i style="left:514.0px;top:324.0px">7</i><i style="left:531.0px;top:324.0px">8</i><i style="left:549.0px;top:324.0px">9</i><i style="left:566.0px;top:324.0px"><s>1</s>0</i><i style="left:583.0px;top:324.0px"><s>1</s><s>1</s></i><i style="left:600.0px;top:324.0px"><s>1</s>2</i><i style="left:617.0px;top:324.0px"><s>1</s>3</i><i style="left:634.0px;top:324.0px"><s>1</s>4</i><i style="left:651.0px;top:324.0px"><s>1</s>5</i><i style="left:668.0px;top:324.0px"><s>1</s>6</i><i style="left:685.0px;top:324.0px"><s>1</s>7</i><b style="left:383.6px;top:320.0px">10</b><b style="left:712.7px;top:320.0px">10</b><i style="left:411.0px;top:352.0px"><s>1</s></i><i style="left:428.0px;top:352.0px">2</i><i style="left:445.0px;top:352.0px">3</i><i style="left:462.0px;top:352.0px">4</i><i style="left:479.0px;top:352.0px">5</i><i style="left:496.0px;top:352.0px">6</i><i style="left:513.0px;top:352.0px">7</i><i style="left:530.0px;top:352.0px">8</i><i style="left:547.0px;top:352.0px">9</i><i style="left:565.0px;top:352.0px"><s>1</s>0</i><i style="left:582.0px;top:352.0px"><s>1</s><s>1</s></i><i style="left:599.0px;top:352.0px"><s>1</s>2</i><i style="left:616.0px;top:352.0px"><s>1</s>3</i><i style="left:633.0px;top:352.0px"><s>1</s>4</i><i style="left:650.0px;top:352.0px"><s>1</s>5</i><i style="left:667.0px;top:352.0px"><s>1</s>6</i><i style="left:684.0px;top:352.0px"><s>1</s>7</i><b style="left:382.6px;top:348.0px">11</b><b style="left:711.7px;top:348.0px">11</b><i style="left:418.0px;top:380.0px"><s>1</s></i><i style="left:435.0px;top:380.0px">2</i><i style="left:452.0px;top:380.0px">3</i><i style="left:469.0px;top:380.0px">4</i><i style="left:486.0px;top:380.0px">5</i><i style="left:503.0px;top:380.0px">6</i><i style="left:520.0px;top:380.0px">7</i><i style="left:537.0px;top:380.0px">8</i><i style="left:555.0px;top:380.0px">9</i><i style="left:572.0px;top:380.0px"><s>1</s>0</i><i style="left:589.0px;top:380.0px"><s>1</s><s>1</s></i><i style="left:606.0px;top:380.0px"><s>1</s>2</i><i style="left:623.0px;top:380.0px"><s>1</s>3</i><i style="left:640.0px;top:380.0px"><s>1</s>4</i><i style="left:657.0px;top:380.0px"><s>1</s>5</i><i style="left:674.0px;top:380.0px"><s>1</s>6</i><b style="left:389.6px;top:376.0px">12</b><b style="left:701.7px;top:376.0px">12</b><i style="left:425.0px;top:408.0px"><s>1</s></i><i style="left:442.0px;top:408.0px">2</i><i style="left:459.0px;top:408.0px">3</i><i style="left:476.0px;top:408.0px">4</i><i style="left:493.0px;top:408.0px">5</i><i style="left:510.0px;top:408.0px">6</i><i style="left:527.0px;top:408.0px">7</i><i style="left:545.0px;top:408.0px">8</i><i style="left:562.0px;top:408.0px">9</i><i style="left:579.0px;top:408.0px"><s>1</s>0</i><i style="left:596.0px;top:408.0px"><s>1</s><s>1</s></i><i style="left:613.0px;top:408.0px"><s>1</s>2</i><i style="left:630.0px;top:408.0px"><s>1</s>3</i><i style="left:647.0px;top:408.0px"><s>1</s>4</i><i style="left:664.0px;top:408.0px"><s>1</s>5</i><b style="left:396.6px;top:404.0px">13</b><b style="left:691.7px;top:404.0px">13</b><i style="left:442.0px;top:436.0px"><s>1</s></i><i style="left:459.0px;top:436.0px">2</i><i style="left:476.0px;top:436.0px">3</i><i style="left:493.0px;top:436.0px">4</i><i style="left:511.0px;top:436.0px">5</i><i style="left:528.0px;top:436.0px">6</i><i style="left:545.0px;top:436.0px">7</i><i style="left:562.0px;top:436.0px">8</i><i style="left:579.0px;top:436.0px">9</i><i style="left:597.0px;top:436.0px"><s>1</s>0</i><i style="left:614.0px;top:436.0px"><s>1</s><s>1</s></i><i style="left:631.0px;top:436.0px"><s>1</s>2</i><i style="left:648.0px;top:436.0px"><s>1</s>3</i><b style="left:413.6px;top:432.0px">14</b><b style="left:675.7px;top:432.0px">14</b><i style="left:485.0px;top:464.0px"><s>1</s></i><i style="left:502.0px;top:464.0px">2</i><i style="left:519.0px;top:464.0px">3</i><i style="left:536.0px;top:464.0px">4</i><i style="left:554.0px;top:464.0px">5</i><i style="left:571.0px;top:464.0px">6</i><i style="left:588.0px;top:464.0px">7</i><i style="left:605.0px;top:464.0px">8</i><b style="left:456.6px;top:460.0px">15</b><b style="left:632.7px;top:460.0px">15</b><i style="left:485.0px;top:492.0px"><s>1</s></i><i style="left:502.0px;top:492.0px">2</i><i style="left:519.0px;top:492.0px">3</i><i style="left:536.0px;top:492.0px">4</i><i style="left:554.0px;top:492.0px">5</i><i style="left:571.0px;top:492.0px">6</i><i style="left:588.0px;top:492.0px">7</i><i style="left:605.0px;top:492.0px">8</i><b style="left:456.6px;top:488.0px">16</b><b style="left:632.7px;top:488.0px">16</b><i style="left:233.0px;top:261.0px">5</i><i style="left:250.0px;top:261.0px">4</i><i style="left:267.0px;top:261.0px">3</i><i style="left:285.0px;top:261.0px">2</i><i style="left:302.0px;top:261.0px"><s>1</s></i><b style="left:204.4px;top:257.0px">1</b><i style="left:189.0px;top:289.0px">8</i><i style="left:206.0px;top:289.0px">7</i><i style="left:223.0px;top:289.0px">6</i><i style="left:240.0px;top:289.0px">5</i><i style="left:258.0px;top:289.0px">4</i><i style="left:275.0px;top:289.0px">3</i><i style="left:292.0px;top:289.0px">2</i><i style="left:309.0px;top:289.0px"><s>1</s></i><b style="left:160.4px;top:285.0px">2</b><i style="left:215.0px;top:317.0px">7</i><i style="left:232.0px;top:317.0px">6</i><i style="left:249.0px;top:317.0px">5</i><i style="left:266.0px;top:317.0px">4</i><i style="left:283.0px;top:317.0px">3</i><i style="left:300.0px;top:317.0px">2</i><i style="left:317.0px;top:317.0px"><s>1</s></i><b style="left:186.4px;top:313.0px">3</b><i style="left:205.0px;top:345.0px">8</i><i style="left:222.0px;top:345.0px">7</i><i style="left:239.0px;top:345.0px">6</i><i style="left:256.0px;top:345.0px">5</i><i style="left:274.0px;top:345.0px">4</i><i style="left:291.0px;top:345.0px">3</i><i style="left:308.0px;top:345.0px">2</i><i style="left:325.0px;top:345.0px"><s>1</s></i><b style="left:176.4px;top:341.0px">4</b><i style="left:196.0px;top:373.0px">8</i><i style="left:213.0px;top:373.0px">7</i><i style="left:230.0px;top:373.0px">6</i><i style="left:247.0px;top:373.0px">5</i><i style="left:265.0px;top:373.0px">4</i><i style="left:282.0px;top:373.0px">3</i><i style="left:299.0px;top:373.0px">2</i><i style="left:316.0px;top:373.0px"><s>1</s></i><b style="left:167.4px;top:369.0px">5</b><i style="left:186.0px;top:401.0px">9</i><i style="left:203.0px;top:401.0px">8</i><i style="left:220.0px;top:401.0px">7</i><i style="left:237.0px;top:401.0px">6</i><i style="left:255.0px;top:401.0px">5</i><i style="left:272.0px;top:401.0px">4</i><i style="left:289.0px;top:401.0px">3</i><i style="left:306.0px;top:401.0px">2</i><i style="left:323.0px;top:401.0px"><s>1</s></i><b style="left:157.4px;top:397.0px">6</b><i style="left:211.0px;top:429.0px">8</i><i style="left:228.0px;top:429.0px">7</i><i style="left:245.0px;top:429.0px">6</i><i style="left:262.0px;top:429.0px">5</i><i style="left:279.0px;top:429.0px">4</i><i style="left:296.0px;top:429.0px">3</i><i style="left:313.0px;top:429.0px">2</i><i style="left:330.0px;top:429.0px"><s>1</s></i><b style="left:182.4px;top:425.0px">7</b><i style="left:202.0px;top:457.0px">9</i><i style="left:219.0px;top:457.0px">8</i><i style="left:236.0px;top:457.0px">7</i><i style="left:253.0px;top:457.0px">6</i><i style="left:271.0px;top:457.0px">5</i><i style="left:288.0px;top:457.0px">4</i><i style="left:305.0px;top:457.0px">3</i><i style="left:322.0px;top:457.0px">2</i><i style="left:339.0px;top:457.0px"><s>1</s></i><b style="left:173.4px;top:453.0px">8</b><i style="left:211.0px;top:485.0px">7</i><i style="left:228.0px;top:485.0px">6</i><i style="left:245.0px;top:485.0px">5</i><i style="left:261.0px;top:485.0px">4</i><i style="left:278.0px;top:485.0px">3</i><i style="left:295.0px;top:485.0px">2</i><i style="left:312.0px;top:485.0px"><s>1</s></i><b style="left:182.4px;top:481.0px">9</b><i style="left:202.0px;top:513.0px">6</i><i style="left:219.0px;top:513.0px">5</i><i style="left:236.0px;top:513.0px">4</i><i style="left:254.0px;top:513.0px">3</i><i style="left:271.0px;top:513.0px">2</i><i style="left:288.0px;top:513.0px"><s>1</s></i><b style="left:173.4px;top:509.0px">10</b><i style="left:210.0px;top:541.0px">4</i><i style="left:227.0px;top:541.0px">3</i><i style="left:244.0px;top:541.0px">2</i><i style="left:261.0px;top:541.0px"><s>1</s></i><b style="left:181.4px;top:537.0px">11</b><i style="left:794.0px;top:261.0px"><s>1</s></i><i style="left:811.0px;top:261.0px">2</i><i style="left:828.0px;top:261.0px">3</i><i style="left:845.0px;top:261.0px">4</i><i style="left:862.0px;top:261.0px">5</i><b style="left:889.3px;top:257.0px">1</b><i style="left:785.0px;top:289.0px"><s>1</s></i><i style="left:802.0px;top:289.0px">2</i><i style="left:819.0px;top:289.0px">3</i><i style="left:836.0px;top:289.0px">4</i><i style="left:854.0px;top:289.0px">5</i><i style="left:871.0px;top:289.0px">6</i><i style="left:888.0px;top:289.0px">7</i><i style="left:905.0px;top:289.0px">8</i><b style="left:932.3px;top:285.0px">2</b><i style="left:777.0px;top:317.0px"><s>1</s></i><i style="left:794.0px;top:317.0px">2</i><i style="left:811.0px;top:317.0px">3</i><i style="left:828.0px;top:317.0px">4</i><i style="left:845.0px;top:317.0px">5</i><i style="left:862.0px;top:317.0px">6</i><i style="left:879.0px;top:317.0px">7</i><b style="left:906.3px;top:313.0px">3</b><i style="left:769.0px;top:345.0px"><s>1</s></i><i style="left:786.0px;top:345.0px">2</i><i style="left:803.0px;top:345.0px">3</i><i style="left:820.0px;top:345.0px">4</i><i style="left:837.0px;top:345.0px">5</i><i style="left:854.0px;top:345.0px">6</i><i style="left:871.0px;top:345.0px">7</i><i style="left:888.0px;top:345.0px">8</i><b style="left:915.3px;top:331.0px">4</b><i style="left:778.0px;top:373.0px"><s>1</s></i><i style="left:795.0px;top:373.0px">2</i><i style="left:812.0px;top:373.0px">3</i><i style="left:829.0px;top:373.0px">4</i><i style="left:847.0px;top:373.0px">5</i><i style="left:864.0px;top:373.0px">6</i><i style="left:881.0px;top:373.0px">7</i><i style="left:898.0px;top:373.0px">8</i><b style="left:925.3px;top:369.0px">5</b><i style="left:769.0px;top:401.0px"><s>1</s></i><i style="left:786.0px;top:401.0px">2</i><i style="left:803.0px;top:401.0px">3</i><i style="left:820.0px;top:401.0px">4</i><i style="left:837.0px;top:401.0px">5</i><i style="left:855.0px;top:401.0px">6</i><i style="left:872.0px;top:401.0px">7</i><i style="left:889.0px;top:401.0px">8</i><i style="left:906.0px;top:401.0px">9</i><b style="left:933.3px;top:397.0px">6</b><i style="left:760.0px;top:429.0px"><s>1</s></i><i style="left:777.0px;top:429.0px">2</i><i style="left:794.0px;top:429.0px">3</i><i style="left:811.0px;top:429.0px">4</i><i style="left:828.0px;top:429.0px">5</i><i style="left:845.0px;top:429.0px">6</i><i style="left:862.0px;top:429.0px">7</i><i style="left:879.0px;top:429.0px">8</i><b style="left:906.3px;top:425.0px">7</b><i style="left:751.0px;top:457.0px"><s>1</s></i><i style="left:768.0px;top:457.0px">2</i><i style="left:785.0px;top:457.0px">3</i><i style="left:802.0px;top:457.0px">4</i><i style="left:819.0px;top:457.0px">5</i><i style="left:837.0px;top:457.0px">6</i><i style="left:854.0px;top:457.0px">7</i><i style="left:871.0px;top:457.0px">8</i><i style="left:888.0px;top:457.0px">9</i><b style="left:915.3px;top:453.0px">8</b><i style="left:776.0px;top:485.0px"><s>1</s></i><i style="left:793.0px;top:485.0px">2</i><i style="left:810.0px;top:485.0px">3</i><i style="left:827.0px;top:485.0px">4</i><i style="left:845.0px;top:485.0px">5</i><i style="left:862.0px;top:485.0px">6</i><i style="left:879.0px;top:485.0px">7</i><b style="left:906.3px;top:481.0px">9</b><i style="left:803.0px;top:513.0px"><s>1</s></i><i style="left:820.0px;top:513.0px">2</i><i style="left:837.0px;top:513.0px">3</i><i style="left:854.0px;top:513.0px">4</i><i style="left:871.0px;top:513.0px">5</i><i style="left:888.0px;top:513.0px">6</i><b style="left:915.3px;top:509.0px">10</b><i style="left:827.0px;top:541.0px"><s>1</s></i><i style="left:844.0px;top:541.0px">2</i><i style="left:862.0px;top:541.0px">3</i><i style="left:879.0px;top:541.0px">4</i><b style="left:906.3px;top:537.0px">11</b><i style="left:358.0px;top:569.0px">A</i><i style="left:349.0px;top:597.0px">B</i><i style="left:731.0px;top:569.0px">C</i><i style="left:739.0px;top:597.0px">D</i><i style="left:434.0px;top:541.0px"><s>1</s></i><i style="left:451.0px;top:541.0px">2</i><i style="left:468.0px;top:541.0px">3</i><i style="left:485.0px;top:541.0px">4</i><i style="left:502.0px;top:541.0px">5</i><i style="left:587.0px;top:541.0px">6</i><i style="left:604.0px;top:541.0px">7</i><i style="left:621.0px;top:541.0px">8</i><i style="left:638.0px;top:541.0px">9</i><i style="left:655.0px;top:541.0px"><s>1</s>0</i><b style="left:406.0px;top:537.0px">1</b><b style="left:683.3px;top:537.0px">1</b><i style="left:408.0px;top:569.0px"><s>1</s></i><i style="left:425.0px;top:569.0px">2</i><i style="left:442.0px;top:569.0px">3</i><i style="left:459.0px;top:569.0px">4</i><i style="left:476.0px;top:569.0px">5</i><i style="left:493.0px;top:569.0px">6</i><i style="left:510.0px;top:569.0px">7</i><i style="left:527.0px;top:569.0px">8</i><i style="left:545.0px;top:569.0px">9</i><i style="left:562.0px;top:569.0px"><s>1</s>0</i><i style="left:579.0px;top:569.0px"><s>1</s><s>1</s></i><i style="left:596.0px;top:569.0px"><s>1</s>2</i><i style="left:613.0px;top:569.0px"><s>1</s>3</i><i style="left:630.0px;top:569.0px"><s>1</s>4</i><i style="left:647.0px;top:569.0px"><s>1</s>5</i><i style="left:664.0px;top:569.0px"><s>1</s>6</i><i style="left:681.0px;top:569.0px"><s>1</s>7</i><b style="left:379.3px;top:565.0px">2</b><b style="left:708.5px;top:565.0px">2</b><i style="left:399.0px;top:597.0px"><s>1</s></i><i style="left:416.0px;top:597.0px">2</i><i style="left:433.0px;top:597.0px">3</i><i style="left:450.0px;top:597.0px">4</i><i style="left:467.0px;top:597.0px">5</i><i style="left:484.0px;top:597.0px">6</i><i style="left:501.0px;top:597.0px">7</i><i style="left:518.0px;top:597.0px">8</i><i style="left:535.0px;top:597.0px">9</i><i style="left:553.0px;top:597.0px"><s>1</s>0</i><i style="left:570.0px;top:597.0px"><s>1</s><s>1</s></i><i style="left:587.0px;top:597.0px"><s>1</s>2</i><i style="left:604.0px;top:597.0px"><s>1</s>3</i><i style="left:621.0px;top:597.0px"><s>1</s>4</i><i style="left:638.0px;top:597.0px"><s>1</s>5</i><i style="left:655.0px;top:597.0px"><s>1</s>6</i><i style="left:672.0px;top:597.0px"><s>1</s>7</i><i style="left:689.0px;top:597.0px"><s>1</s>8</i><b style="left:370.3px;top:593.0px">3</b><b style="left:716.5px;top:593.0px">3</b><i style="left:408.0px;top:625.0px"><s>1</s></i><i style="left:425.0px;top:625.0px">2</i><i style="left:442.0px;top:625.0px">3</i><i style="left:459.0px;top:625.0px">4</i><i style="left:477.0px;top:625.0px">5</i><i style="left:494.0px;top:625.0px">6</i><i style="left:511.0px;top:625.0px">7</i><i style="left:528.0px;top:625.0px">8</i><i style="left:545.0px;top:625.0px">9</i><i style="left:562.0px;top:625.0px"><s>1</s>0</i><i style="left:579.0px;top:625.0px"><s>1</s><s>1</s></i><i style="left:596.0px;top:625.0px"><s>1</s>2</i><i style="left:613.0px;top:625.0px"><s>1</s>3</i><i style="left:631.0px;top:625.0px"><s>1</s>4</i><i style="left:648.0px;top:625.0px"><s>1</s>5</i><i style="left:665.0px;top:625.0px"><s>1</s>6</i><i style="left:682.0px;top:625.0px"><s>1</s>7</i><b style="left:379.3px;top:621.0px">4</b><b style="left:709.5px;top:621.0px">4</b><i style="left:399.0px;top:653.0px"><s>1</s></i><i style="left:416.0px;top:653.0px">2</i><i style="left:433.0px;top:653.0px">3</i><i style="left:450.0px;top:653.0px">4</i><i style="left:467.0px;top:653.0px">5</i><i style="left:484.0px;top:653.0px">6</i><i style="left:501.0px;top:653.0px">7</i><i style="left:518.0px;top:653.0px">8</i><i style="left:535.0px;top:653.0px">9</i><i style="left:553.0px;top:653.0px"><s>1</s>0</i><i style="left:570.0px;top:653.0px"><s>1</s><s>1</s></i><i style="left:587.0px;top:653.0px"><s>1</s>2</i><i style="left:604.0px;top:653.0px"><s>1</s>3</i><i style="left:621.0px;top:653.0px"><s>1</s>4</i><i style="left:638.0px;top:653.0px"><s>1</s>5</i><i style="left:655.0px;top:653.0px"><s>1</s>6</i><i style="left:672.0px;top:653.0px"><s>1</s>7</i><i style="left:689.0px;top:653.0px"><s>1</s>8</i><b style="left:370.3px;top:649.0px">5</b><b style="left:716.5px;top:649.0px">5</b><i style="left:398.0px;top:709.0px"><s>1</s>8</i><i style="left:415.0px;top:709.0px"><s>1</s>7</i><i style="left:432.0px;top:709.0px"><s>1</s>6</i><i style="left:449.0px;top:709.0px"><s>1</s>5</i><i style="left:466.0px;top:709.0px"><s>1</s>4</i><i style="left:484.0px;top:709.0px"><s>1</s>3</i><i style="left:501.0px;top:709.0px"><s>1</s>2</i><i style="left:518.0px;top:709.0px"><s>1</s><s>1</s></i><i style="left:535.0px;top:709.0px"><s>1</s>0</i><i style="left:552.0px;top:709.0px">9</i><i style="left:569.0px;top:709.0px">8</i><i style="left:586.0px;top:709.0px">7</i><i style="left:603.0px;top:709.0px">6</i><i style="left:621.0px;top:709.0px">5</i><i style="left:638.0px;top:709.0px">4</i><i style="left:655.0px;top:709.0px">3</i><i style="left:672.0px;top:709.0px">2</i><i style="left:689.0px;top:709.0px"><s>1</s></i><b style="left:369.8px;top:705.0px">1</b><b style="left:716.8px;top:705.0px">1</b><i style="left:382.0px;top:737.0px">20</i><i style="left:399.0px;top:737.0px"><s>1</s>9</i><i style="left:416.0px;top:737.0px"><s>1</s>8</i><i style="left:433.0px;top:737.0px"><s>1</s>7</i><i style="left:450.0px;top:737.0px"><s>1</s>6</i><i style="left:467.0px;top:737.0px"><s>1</s>5</i><i style="left:484.0px;top:737.0px"><s>1</s>4</i><i style="left:501.0px;top:737.0px"><s>1</s>3</i><i style="left:518.0px;top:737.0px"><s>1</s>2</i><i style="left:535.0px;top:737.0px"><s>1</s><s>1</s></i><i style="left:553.0px;top:737.0px"><s>1</s>0</i><i style="left:570.0px;top:737.0px">9</i><i style="left:587.0px;top:737.0px">8</i><i style="left:604.0px;top:737.0px">7</i><i style="left:621.0px;top:737.0px">6</i><i style="left:638.0px;top:737.0px">5</i><i style="left:655.0px;top:737.0px">4</i><i style="left:672.0px;top:737.0px">3</i><i style="left:689.0px;top:737.0px">2</i><i style="left:706.0px;top:737.0px"><s>1</s></i><b style="left:353.8px;top:733.0px">2</b><b style="left:733.8px;top:733.0px">2</b><i style="left:365.0px;top:765.0px">22</i><i style="left:382.0px;top:765.0px">2<s>1</s></i><i style="left:399.0px;top:765.0px">20</i><i style="left:416.0px;top:765.0px"><s>1</s>9</i><i style="left:433.0px;top:765.0px"><s>1</s>8</i><i style="left:450.0px;top:765.0px"><s>1</s>7</i><i style="left:468.0px;top:765.0px"><s>1</s>6</i><i style="left:485.0px;top:765.0px"><s>1</s>5</i><i style="left:502.0px;top:765.0px"><s>1</s>4</i><i style="left:519.0px;top:765.0px"><s>1</s>3</i><i style="left:536.0px;top:765.0px"><s>1</s>2</i><i style="left:553.0px;top:765.0px"><s>1</s><s>1</s></i><i style="left:570.0px;top:765.0px"><s>1</s>0</i><i style="left:587.0px;top:765.0px">9</i><i style="left:604.0px;top:765.0px">8</i><i style="left:621.0px;top:765.0px">7</i><i style="left:639.0px;top:765.0px">6</i><i style="left:656.0px;top:765.0px">5</i><i style="left:673.0px;top:765.0px">4</i><i style="left:690.0px;top:765.0px">3</i><i style="left:707.0px;top:765.0px">2</i><i style="left:724.0px;top:765.0px"><s>1</s></i><b style="left:336.8px;top:761.0px">3</b><b style="left:751.8px;top:761.0px">3</b><i style="left:365.0px;top:793.0px">22</i><i style="left:382.0px;top:793.0px">2<s>1</s></i><i style="left:399.0px;top:793.0px">20</i><i style="left:416.0px;top:793.0px"><s>1</s>9</i><i style="left:433.0px;top:793.0px"><s>1</s>8</i><i style="left:450.0px;top:793.0px"><s>1</s>7</i><i style="left:468.0px;top:793.0px"><s>1</s>6</i><i style="left:485.0px;top:793.0px"><s>1</s>5</i><i style="left:502.0px;top:793.0px"><s>1</s>4</i><i style="left:519.0px;top:793.0px"><s>1</s>3</i><i style="left:536.0px;top:793.0px"><s>1</s>2</i><i style="left:553.0px;top:793.0px"><s>1</s><s>1</s></i><i style="left:570.0px;top:793.0px"><s>1</s>0</i><i style="left:587.0px;top:793.0px">9</i><i style="left:604.0px;top:793.0px">8</i><i style="left:621.0px;top:793.0px">7</i><i style="left:639.0px;top:793.0px">6</i><i style="left:656.0px;top:793.0px">5</i><i style="left:673.0px;top:793.0px">4</i><i style="left:690.0px;top:793.0px">3</i><i style="left:707.0px;top:793.0px">2</i><i style="left:724.0px;top:793.0px"><s>1</s></i><b style="left:336.8px;top:789.0px">4</b><b style="left:751.8px;top:789.0px">4</b><i style="left:392.0px;top:821.0px"><s>1</s>9</i><i style="left:409.0px;top:821.0px"><s>1</s>8</i><i style="left:426.0px;top:821.0px"><s>1</s>7</i><i style="left:443.0px;top:821.0px"><s>1</s>6</i><i style="left:460.0px;top:821.0px"><s>1</s>5</i><i style="left:478.0px;top:821.0px"><s>1</s>4</i><i style="left:495.0px;top:821.0px"><s>1</s>3</i><i style="left:512.0px;top:821.0px"><s>1</s>2</i><i style="left:529.0px;top:821.0px"><s>1</s><s>1</s></i><i style="left:546.0px;top:821.0px"><s>1</s>0</i><i style="left:563.0px;top:821.0px">9</i><i style="left:580.0px;top:821.0px">8</i><i style="left:597.0px;top:821.0px">7</i><i style="left:614.0px;top:821.0px">6</i><i style="left:632.0px;top:821.0px">5</i><i style="left:649.0px;top:821.0px">4</i><i style="left:666.0px;top:821.0px">3</i><i style="left:683.0px;top:821.0px">2</i><i style="left:700.0px;top:821.0px"><s>1</s></i><b style="left:363.8px;top:817.0px">5</b><b style="left:727.8px;top:817.0px">5</b><i style="left:371.0px;top:868.0px"><s>1</s>9</i><i style="left:388.0px;top:868.0px"><s>1</s>8</i><i style="left:405.0px;top:868.0px"><s>1</s>7</i><i style="left:422.0px;top:868.0px"><s>1</s>6</i><i style="left:439.0px;top:868.0px"><s>1</s>5</i><i style="left:456.0px;top:868.0px"><s>1</s>4</i><i style="left:473.0px;top:868.0px"><s>1</s>3</i><i style="left:490.0px;top:868.0px"><s>1</s>2</i><i style="left:507.0px;top:868.0px"><s>1</s><s>1</s></i><i style="left:580.0px;top:868.0px"><s>1</s>0</i><i style="left:597.0px;top:868.0px">9</i><i style="left:614.0px;top:868.0px">8</i><i style="left:631.0px;top:868.0px">7</i><i style="left:648.0px;top:868.0px">6</i><i style="left:665.0px;top:868.0px">5</i><i style="left:682.0px;top:868.0px">4</i><i style="left:699.0px;top:868.0px">3</i><i style="left:716.0px;top:868.0px">2</i><i style="left:733.0px;top:868.0px"><s>1</s></i><b style="left:342.6px;top:864.0px">6</b><b style="left:755.6px;top:864.0px">6</b><i style="left:371.0px;top:896.0px"><s>1</s>9</i><i style="left:388.0px;top:896.0px"><s>1</s>8</i><i style="left:405.0px;top:896.0px"><s>1</s>7</i><i style="left:422.0px;top:896.0px"><s>1</s>6</i><i style="left:439.0px;top:896.0px"><s>1</s>5</i><i style="left:456.0px;top:896.0px"><s>1</s>4</i><i style="left:473.0px;top:896.0px"><s>1</s>3</i><i style="left:490.0px;top:896.0px"><s>1</s>2</i><i style="left:507.0px;top:896.0px"><s>1</s><s>1</s></i><i style="left:580.0px;top:896.0px"><s>1</s>0</i><i style="left:597.0px;top:896.0px">9</i><i style="left:614.0px;top:896.0px">8</i><i style="left:631.0px;top:896.0px">7</i><i style="left:648.0px;top:896.0px">6</i><i style="left:665.0px;top:896.0px">5</i><i style="left:682.0px;top:896.0px">4</i><i style="left:699.0px;top:896.0px">3</i><i style="left:716.0px;top:896.0px">2</i><i style="left:733.0px;top:896.0px"><s>1</s></i><b style="left:342.6px;top:892.0px">7</b><b style="left:755.6px;top:892.0px">7</b><i style="left:371.0px;top:924.0px"><s>1</s>9</i><i style="left:388.0px;top:924.0px"><s>1</s>8</i><i style="left:405.0px;top:924.0px"><s>1</s>7</i><i style="left:422.0px;top:924.0px"><s>1</s>6</i><i style="left:439.0px;top:924.0px"><s>1</s>5</i><i style="left:456.0px;top:924.0px"><s>1</s>4</i><i style="left:473.0px;top:924.0px"><s>1</s>3</i><i style="left:490.0px;top:924.0px"><s>1</s>2</i><i style="left:507.0px;top:924.0px"><s>1</s><s>1</s></i><i style="left:580.0px;top:924.0px"><s>1</s>0</i><i style="left:597.0px;top:924.0px">9</i><i style="left:614.0px;top:924.0px">8</i><i style="left:631.0px;top:924.0px">7</i><i style="left:648.0px;top:924.0px">6</i><i style="left:665.0px;top:924.0px">5</i><i style="left:682.0px;top:924.0px">4</i><i style="left:699.0px;top:924.0px">3</i><i style="left:716.0px;top:924.0px">2</i><i style="left:733.0px;top:924.0px"><s>1</s></i><b style="left:342.6px;top:920.0px">8</b><b style="left:755.6px;top:920.0px">8</b><i style="left:371.0px;top:952.0px"><s>1</s>9</i><i style="left:388.0px;top:952.0px"><s>1</s>8</i><i style="left:405.0px;top:952.0px"><s>1</s>7</i><i style="left:422.0px;top:952.0px"><s>1</s>6</i><i style="left:439.0px;top:952.0px"><s>1</s>5</i><i style="left:456.0px;top:952.0px"><s>1</s>4</i><i style="left:473.0px;top:952.0px"><s>1</s>3</i><i style="left:490.0px;top:952.0px"><s>1</s>2</i><i style="left:507.0px;top:952.0px"><s>1</s><s>1</s></i><i style="left:580.0px;top:952.0px"><s>1</s>0</i><i style="left:597.0px;top:952.0px">9</i><i style="left:614.0px;top:952.0px">8</i><i style="left:631.0px;top:952.0px">7</i><i style="left:648.0px;top:952.0px">6</i><i style="left:665.0px;top:952.0px">5</i><i style="left:682.0px;top:952.0px">4</i><i style="left:699.0px;top:952.0px">3</i><i style="left:716.0px;top:952.0px">2</i><i style="left:733.0px;top:952.0px"><s>1</s></i><b style="left:342.6px;top:948.0px">9</b><b style="left:755.6px;top:948.0px">9</b><i style="left:371.0px;top:980.0px"><s>1</s>9</i><i style="left:388.0px;top:980.0px"><s>1</s>8</i><i style="left:405.0px;top:980.0px"><s>1</s>7</i><i style="left:422.0px;top:980.0px"><s>1</s>6</i><i style="left:439.0px;top:980.0px"><s>1</s>5</i><i style="left:456.0px;top:980.0px"><s>1</s>4</i><i style="left:473.0px;top:980.0px"><s>1</s>3</i><i style="left:490.0px;top:980.0px"><s>1</s>2</i><i style="left:507.0px;top:980.0px"><s>1</s><s>1</s></i><i style="left:580.0px;top:980.0px"><s>1</s>0</i><i style="left:597.0px;top:980.0px">9</i><i style="left:614.0px;top:980.0px">8</i><i style="left:631.0px;top:980.0px">7</i><i style="left:648.0px;top:980.0px">6</i><i style="left:665.0px;top:980.0px">5</i><i style="left:682.0px;top:980.0px">4</i><i style="left:699.0px;top:980.0px">3</i><i style="left:716.0px;top:980.0px">2</i><i style="left:733.0px;top:980.0px"><s>1</s></i><b style="left:342.6px;top:976.0px">10</b><b style="left:755.6px;top:976.0px">10</b><i style="left:371.0px;top:1008.0px"><s>1</s>9</i><i style="left:388.0px;top:1008.0px"><s>1</s>8</i><i style="left:405.0px;top:1008.0px"><s>1</s>7</i><i style="left:422.0px;top:1008.0px"><s>1</s>6</i><i style="left:439.0px;top:1008.0px"><s>1</s>5</i><i style="left:456.0px;top:1008.0px"><s>1</s>4</i><i style="left:473.0px;top:1008.0px"><s>1</s>3</i><i style="left:490.0px;top:1008.0px"><s>1</s>2</i><i style="left:507.0px;top:1008.0px"><s>1</s><s>1</s></i><i style="left:580.0px;top:1008.0px"><s>1</s>0</i><i style="left:597.0px;top:1008.0px">9</i><i style="left:614.0px;top:1008.0px">8</i><i style="left:631.0px;top:1008.0px">7</i><i style="left:648.0px;top:1008.0px">6</i><i style="left:665.0px;top:1008.0px">5</i><i style="left:682.0px;top:1008.0px">4</i><i style="left:699.0px;top:1008.0px">3</i><i style="left:716.0px;top:1008.0px">2</i><i style="left:733.0px;top:1008.0px"><s>1</s></i><b style="left:342.6px;top:1004.0px">11</b><b style="left:755.6px;top:1004.0px">11</b><i style="left:383.0px;top:1036.0px">2<s>1</s></i><i style="left:400.0px;top:1036.0px">20</i><i style="left:417.0px;top:1036.0px"><s>1</s>9</i><i style="left:434.0px;top:1036.0px"><s>1</s>8</i><i style="left:451.0px;top:1036.0px"><s>1</s>7</i><i style="left:468.0px;top:1036.0px"><s>1</s>6</i><i style="left:485.0px;top:1036.0px"><s>1</s>5</i><i style="left:502.0px;top:1036.0px"><s>1</s>4</i><i style="left:519.0px;top:1036.0px"><s>1</s>3</i><i style="left:536.0px;top:1036.0px"><s>1</s>2</i><i style="left:553.0px;top:1036.0px"><s>1</s><s>1</s></i><i style="left:571.0px;top:1036.0px"><s>1</s>0</i><i style="left:588.0px;top:1036.0px">9</i><i style="left:605.0px;top:1036.0px">8</i><i style="left:622.0px;top:1036.0px">7</i><i style="left:639.0px;top:1036.0px">6</i><i style="left:656.0px;top:1036.0px">5</i><i style="left:673.0px;top:1036.0px">4</i><i style="left:690.0px;top:1036.0px">3</i><i style="left:707.0px;top:1036.0px">2</i><i style="left:724.0px;top:1036.0px"><s>1</s></i><b style="left:355.0px;top:1032.0px">12</b><b style="left:753.3px;top:1032.0px">12</b><i style="left:87.0px;top:437.0px"><s>1</s></i><i style="left:97.0px;top:451.0px">2</i><i style="left:106.0px;top:465.0px">3</i><i style="left:115.0px;top:479.0px">4</i><i style="left:125.0px;top:493.0px">5</i><i style="left:135.0px;top:508.0px">6</i><i style="left:144.0px;top:522.0px">7</i><i style="left:153.0px;top:536.0px">8</i><i style="left:163.0px;top:550.0px">9</i><i style="left:173.0px;top:564.0px"><s>1</s>0</i><i style="left:182.0px;top:578.0px"><s>1</s><s>1</s></i><i style="left:191.0px;top:592.0px"><s>1</s>2</i><i style="left:201.0px;top:607.0px"><s>1</s>3</i><i style="left:211.0px;top:621.0px"><s>1</s>4</i><i style="left:220.0px;top:635.0px"><s>1</s>5</i><i style="left:229.0px;top:649.0px"><s>1</s>6</i><i style="left:239.0px;top:663.0px"><s>1</s>7</i><i style="left:64.0px;top:453.0px"><s>1</s></i><i style="left:73.0px;top:467.0px">2</i><i style="left:83.0px;top:481.0px">3</i><i style="left:93.0px;top:495.0px">4</i><i style="left:102.0px;top:509.0px">5</i><i style="left:111.0px;top:524.0px">6</i><i style="left:121.0px;top:538.0px">7</i><i style="left:131.0px;top:552.0px">8</i><i style="left:140.0px;top:566.0px">9</i><i style="left:149.0px;top:580.0px"><s>1</s>0</i><i style="left:159.0px;top:594.0px"><s>1</s><s>1</s></i><i style="left:169.0px;top:608.0px"><s>1</s>2</i><i style="left:178.0px;top:623.0px"><s>1</s>3</i><i style="left:187.0px;top:637.0px"><s>1</s>4</i><i style="left:197.0px;top:651.0px"><s>1</s>5</i><i style="left:207.0px;top:665.0px"><s>1</s>6</i><i style="left:216.0px;top:679.0px"><s>1</s>7</i><i style="left:40.0px;top:468.0px"><s>1</s></i><i style="left:50.0px;top:482.0px">2</i><i style="left:59.0px;top:496.0px">3</i><i style="left:69.0px;top:510.0px">4</i><i style="left:78.0px;top:525.0px">5</i><i style="left:88.0px;top:539.0px">6</i><i style="left:98.0px;top:553.0px">7</i><i style="left:107.0px;top:567.0px">8</i><i style="left:117.0px;top:581.0px">9</i><i style="left:126.0px;top:595.0px"><s>1</s>0</i><i style="left:136.0px;top:609.0px"><s>1</s><s>1</s></i><i style="left:146.0px;top:623.0px"><s>1</s>2</i><i style="left:155.0px;top:638.0px"><s>1</s>3</i><i style="left:165.0px;top:652.0px"><s>1</s>4</i><i style="left:174.0px;top:666.0px"><s>1</s>5</i><i style="left:184.0px;top:680.0px"><s>1</s>6</i><i style="left:17.0px;top:484.0px"><s>1</s></i><i style="left:27.0px;top:498.0px">2</i><i style="left:36.0px;top:512.0px">3</i><i style="left:46.0px;top:526.0px">4</i><i style="left:55.0px;top:541.0px">5</i><i style="left:65.0px;top:555.0px">6</i><i style="left:75.0px;top:569.0px">7</i><i style="left:84.0px;top:583.0px">8</i><i style="left:94.0px;top:597.0px">9</i><i style="left:103.0px;top:611.0px"><s>1</s>0</i><i style="left:113.0px;top:625.0px"><s>1</s><s>1</s></i><i style="left:123.0px;top:639.0px"><s>1</s>2</i><i style="left:132.0px;top:654.0px"><s>1</s>3</i><i style="left:142.0px;top:668.0px"><s>1</s>4</i><i style="left:151.0px;top:682.0px"><s>1</s>5</i><i style="left:161.0px;top:696.0px"><s>1</s>6</i><i style="left:1003.0px;top:434.0px"><s>1</s></i><i style="left:993.0px;top:448.0px">2</i><i style="left:984.0px;top:463.0px">3</i><i style="left:975.0px;top:477.0px">4</i><i style="left:965.0px;top:491.0px">5</i><i style="left:955.0px;top:505.0px">6</i><i style="left:946.0px;top:519.0px">7</i><i style="left:937.0px;top:534.0px">8</i><i style="left:927.0px;top:548.0px">9</i><i style="left:917.0px;top:562.0px"><s>1</s>0</i><i style="left:908.0px;top:577.0px"><s>1</s><s>1</s></i><i style="left:899.0px;top:591.0px"><s>1</s>2</i><i style="left:889.0px;top:605.0px"><s>1</s>3</i><i style="left:879.0px;top:619.0px"><s>1</s>4</i><i style="left:870.0px;top:633.0px"><s>1</s>5</i><i style="left:861.0px;top:648.0px"><s>1</s>6</i><i style="left:851.0px;top:662.0px"><s>1</s>7</i><i style="left:1026.0px;top:450.0px"><s>1</s></i><i style="left:1017.0px;top:464.0px">2</i><i style="left:1007.0px;top:479.0px">3</i><i style="left:998.0px;top:493.0px">4</i><i style="left:988.0px;top:507.0px">5</i><i style="left:979.0px;top:521.0px">6</i><i style="left:969.0px;top:535.0px">7</i><i style="left:960.0px;top:550.0px">8</i><i style="left:951.0px;top:564.0px">9</i><i style="left:941.0px;top:578.0px"><s>1</s>0</i><i style="left:932.0px;top:593.0px"><s>1</s><s>1</s></i><i style="left:922.0px;top:607.0px"><s>1</s>2</i><i style="left:913.0px;top:621.0px"><s>1</s>3</i><i style="left:903.0px;top:635.0px"><s>1</s>4</i><i style="left:894.0px;top:649.0px"><s>1</s>5</i><i style="left:884.0px;top:664.0px"><s>1</s>6</i><i style="left:875.0px;top:678.0px"><s>1</s>7</i><i style="left:1049.0px;top:466.0px"><s>1</s></i><i style="left:1040.0px;top:480.0px">2</i><i style="left:1030.0px;top:494.0px">3</i><i style="left:1021.0px;top:509.0px">4</i><i style="left:1011.0px;top:523.0px">5</i><i style="left:1002.0px;top:537.0px">6</i><i style="left:993.0px;top:551.0px">7</i><i style="left:983.0px;top:565.0px">8</i><i style="left:974.0px;top:580.0px">9</i><i style="left:964.0px;top:594.0px"><s>1</s>0</i><i style="left:955.0px;top:608.0px"><s>1</s><s>1</s></i><i style="left:946.0px;top:622.0px"><s>1</s>2</i><i style="left:936.0px;top:636.0px"><s>1</s>3</i><i style="left:927.0px;top:651.0px"><s>1</s>4</i><i style="left:917.0px;top:665.0px"><s>1</s>5</i><i style="left:908.0px;top:679.0px"><s>1</s>6</i><i style="left:1073.0px;top:481.0px"><s>1</s></i><i style="left:1064.0px;top:495.0px">2</i><i style="left:1054.0px;top:510.0px">3</i><i style="left:1045.0px;top:524.0px">4</i><i style="left:1035.0px;top:538.0px">5</i><i style="left:1026.0px;top:552.0px">6</i><i style="left:1016.0px;top:567.0px">7</i><i style="left:1007.0px;top:581.0px">8</i><i style="left:997.0px;top:595.0px">9</i><i style="left:988.0px;top:609.0px"><s>1</s>0</i><i style="left:978.0px;top:624.0px"><s>1</s><s>1</s></i><i style="left:969.0px;top:638.0px"><s>1</s>2</i><i style="left:959.0px;top:652.0px"><s>1</s>3</i><i style="left:950.0px;top:666.0px"><s>1</s>4</i><i style="left:940.0px;top:681.0px"><s>1</s>5</i><i style="left:931.0px;top:695.0px"><s>1</s>6</i><b style="left:73.6px;top:415.3px">1</b><b style="left:48.2px;top:431.2px">2</b><b style="left:28.2px;top:447.3px">3</b><b style="left:3.7px;top:460.8px">4</b><b style="left:1019.7px;top:412.0px">1</b><b style="left:1041.5px;top:427.2px">2</b><b style="left:1061.5px;top:444.3px">3</b><b style="left:1083.7px;top:459.6px">4</b></body></html>
